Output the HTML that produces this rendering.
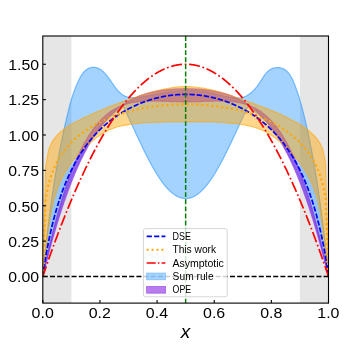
<!DOCTYPE html>
<html><head><meta charset="utf-8"><title>plot</title>
<style>
html,body{margin:0;padding:0;background:#fff;}
body{width:357px;height:357px;overflow:hidden;font-family:"Liberation Sans",sans-serif;}
svg{display:block;font-family:"Liberation Sans",sans-serif;will-change:transform;transform:translateZ(0);}
</style></head><body>
<svg width="357" height="357" viewBox="0 0 357 357">
<rect width="357" height="357" fill="#fff"/>
<defs><clipPath id="ax"><rect x="42.8" y="36.0" width="285.70" height="267.10"/></clipPath></defs>
<g clip-path="url(#ax)">
<rect x="42.8" y="36.0" width="28.57" height="267.10" fill="#808080" fill-opacity="0.2"/>
<rect x="299.93" y="36.0" width="28.57" height="267.10" fill="#808080" fill-opacity="0.2"/>
<path d="M42.80,276.50 L43.16,272.75 L43.51,269.05 L43.87,265.42 L44.23,261.84 L44.59,258.33 L44.94,254.87 L45.30,251.47 L45.66,248.13 L46.01,244.84 L46.37,241.61 L46.73,238.43 L47.09,235.30 L47.44,232.23 L47.80,229.21 L48.16,226.24 L48.51,223.31 L48.87,220.44 L49.23,217.61 L49.59,214.83 L49.94,212.09 L50.30,209.39 L50.66,206.74 L51.01,204.12 L51.37,201.55 L51.73,199.02 L52.09,196.52 L52.44,194.06 L52.80,191.64 L53.16,189.25 L53.51,186.89 L53.87,184.57 L54.23,182.28 L54.59,180.03 L54.94,177.80 L55.30,175.60 L55.66,173.44 L56.01,171.30 L56.37,169.19 L56.73,167.11 L57.08,165.05 L57.44,163.02 L57.80,161.01 L58.16,159.03 L58.51,157.08 L58.87,155.15 L59.23,153.24 L59.58,151.35 L59.94,149.48 L60.30,147.64 L60.66,145.82 L61.01,144.02 L61.37,142.24 L61.73,140.47 L62.08,138.73 L62.44,137.01 L62.80,135.30 L63.16,133.62 L63.51,131.95 L63.87,130.30 L64.23,128.66 L64.58,127.04 L64.94,125.44 L65.30,123.85 L65.66,122.28 L66.01,120.73 L66.37,119.19 L66.73,117.67 L67.08,116.16 L67.44,114.66 L67.80,113.18 L68.16,111.71 L68.51,110.27 L68.87,108.84 L69.23,107.44 L69.58,106.07 L69.94,104.73 L70.30,103.41 L70.66,102.13 L71.01,100.88 L71.37,99.65 L71.73,98.46 L72.08,97.30 L72.44,96.17 L72.80,95.07 L73.16,94.00 L73.51,92.95 L73.87,91.93 L74.23,90.94 L74.58,89.97 L74.94,89.03 L75.30,88.10 L75.66,87.20 L76.01,86.33 L76.37,85.47 L76.73,84.63 L77.08,83.81 L77.44,83.00 L77.80,82.22 L78.16,81.45 L78.51,80.70 L78.87,79.96 L79.23,79.24 L79.58,78.54 L79.94,77.86 L80.30,77.20 L80.66,76.57 L81.01,75.96 L81.37,75.38 L81.73,74.82 L82.08,74.29 L82.44,73.78 L82.80,73.29 L83.16,72.83 L83.51,72.40 L83.87,71.98 L84.23,71.59 L84.58,71.21 L84.94,70.87 L85.30,70.54 L85.66,70.22 L86.01,69.94 L86.37,69.66 L86.73,69.41 L87.08,69.17 L87.44,68.95 L87.80,68.75 L88.15,68.56 L88.51,68.39 L88.87,68.23 L89.23,68.09 L89.58,67.96 L89.94,67.84 L90.30,67.74 L90.65,67.65 L91.01,67.57 L91.37,67.50 L91.73,67.44 L92.08,67.39 L92.44,67.35 L92.80,67.32 L93.15,67.30 L93.51,67.30 L93.87,67.30 L94.23,67.31 L94.58,67.33 L94.94,67.37 L95.30,67.41 L95.65,67.48 L96.01,67.54 L96.37,67.63 L96.73,67.72 L97.08,67.83 L97.44,67.95 L97.80,68.08 L98.15,68.23 L98.51,68.38 L98.87,68.56 L99.23,68.74 L99.58,68.94 L99.94,69.15 L100.30,69.37 L100.65,69.61 L101.01,69.85 L101.37,70.12 L101.73,70.39 L102.08,70.68 L102.44,70.98 L102.80,71.30 L103.15,71.62 L103.51,71.97 L103.87,72.32 L104.23,72.68 L104.58,73.06 L104.94,73.45 L105.30,73.85 L105.65,74.25 L106.01,74.67 L106.37,75.11 L106.73,75.54 L107.08,75.99 L107.44,76.45 L107.80,76.91 L108.15,77.39 L108.51,77.86 L108.87,78.35 L109.23,78.84 L109.58,79.34 L109.94,79.84 L110.30,80.35 L110.65,80.85 L111.01,81.36 L111.37,81.87 L111.73,82.39 L112.08,82.90 L112.44,83.41 L112.80,83.92 L113.15,84.42 L113.51,84.93 L113.87,85.42 L114.22,85.92 L114.58,86.40 L114.94,86.89 L115.30,87.36 L115.65,87.83 L116.01,88.28 L116.37,88.73 L116.72,89.17 L117.08,89.60 L117.44,90.02 L117.80,90.43 L118.15,90.83 L118.51,91.21 L118.87,91.59 L119.22,91.95 L119.58,92.30 L119.94,92.64 L120.30,92.97 L120.65,93.29 L121.01,93.59 L121.37,93.88 L121.72,94.16 L122.08,94.42 L122.44,94.68 L122.80,94.91 L123.15,95.14 L123.51,95.36 L123.87,95.56 L124.22,95.76 L124.58,95.94 L124.94,96.11 L125.30,96.27 L125.65,96.41 L126.01,96.55 L126.37,96.68 L126.72,96.79 L127.08,96.90 L127.44,97.00 L127.80,97.09 L128.15,97.17 L128.51,97.25 L128.87,97.32 L129.22,97.38 L129.58,97.43 L129.94,97.48 L130.30,97.53 L130.65,97.56 L131.01,97.59 L131.37,97.62 L131.72,97.64 L132.08,97.66 L132.44,97.67 L132.80,97.68 L133.15,97.68 L133.51,97.68 L133.87,97.68 L134.22,97.67 L134.58,97.66 L134.94,97.65 L135.30,97.63 L135.65,97.61 L136.01,97.58 L136.37,97.56 L136.72,97.53 L137.08,97.50 L137.44,97.46 L137.80,97.43 L138.15,97.39 L138.51,97.35 L138.87,97.31 L139.22,97.26 L139.58,97.21 L139.94,97.17 L140.30,97.12 L140.65,97.07 L141.01,97.02 L141.37,96.96 L141.72,96.91 L142.08,96.85 L142.44,96.80 L142.80,96.74 L143.15,96.68 L143.51,96.63 L143.87,96.57 L144.22,96.51 L144.58,96.45 L144.94,96.39 L145.29,96.33 L145.65,96.27 L146.01,96.21 L146.37,96.15 L146.72,96.08 L147.08,96.02 L147.44,95.96 L147.79,95.89 L148.15,95.83 L148.51,95.77 L148.87,95.70 L149.22,95.64 L149.58,95.57 L149.94,95.51 L150.29,95.44 L150.65,95.38 L151.01,95.31 L151.37,95.24 L151.72,95.18 L152.08,95.11 L152.44,95.04 L152.79,94.98 L153.15,94.91 L153.51,94.84 L153.87,94.78 L154.22,94.71 L154.58,94.64 L154.94,94.57 L155.29,94.51 L155.65,94.44 L156.01,94.37 L156.37,94.30 L156.72,94.24 L157.08,94.17 L157.44,94.10 L157.79,94.03 L158.15,93.97 L158.51,93.90 L158.87,93.83 L159.22,93.77 L159.58,93.70 L159.94,93.63 L160.29,93.57 L160.65,93.50 L161.01,93.44 L161.37,93.37 L161.72,93.31 L162.08,93.24 L162.44,93.18 L162.79,93.11 L163.15,93.05 L163.51,92.99 L163.87,92.92 L164.22,92.86 L164.58,92.80 L164.94,92.74 L165.29,92.68 L165.65,92.62 L166.01,92.56 L166.37,92.50 L166.72,92.44 L167.08,92.38 L167.44,92.32 L167.79,92.26 L168.15,92.21 L168.51,92.15 L168.87,92.10 L169.22,92.04 L169.58,91.99 L169.94,91.93 L170.29,91.88 L170.65,91.83 L171.01,91.78 L171.37,91.73 L171.72,91.68 L172.08,91.63 L172.44,91.58 L172.79,91.53 L173.15,91.49 L173.51,91.44 L173.86,91.40 L174.22,91.36 L174.58,91.31 L174.94,91.27 L175.29,91.23 L175.65,91.19 L176.01,91.15 L176.36,91.11 L176.72,91.08 L177.08,91.04 L177.44,91.01 L177.79,90.97 L178.15,90.94 L178.51,90.91 L178.86,90.88 L179.22,90.85 L179.58,90.82 L179.94,90.80 L180.29,90.77 L180.65,90.74 L181.01,90.72 L181.36,90.70 L181.72,90.68 L182.08,90.66 L182.44,90.64 L182.79,90.62 L183.15,90.61 L183.51,90.59 L183.86,90.58 L184.22,90.57 L184.58,90.56 L184.94,90.55 L185.29,90.54 L185.65,90.53 L186.01,90.53 L186.36,90.52 L186.72,90.52 L187.08,90.52 L187.44,90.52 L187.79,90.52 L188.15,90.52 L188.51,90.53 L188.86,90.53 L189.22,90.54 L189.58,90.54 L189.94,90.55 L190.29,90.56 L190.65,90.58 L191.01,90.59 L191.36,90.60 L191.72,90.62 L192.08,90.63 L192.44,90.65 L192.79,90.67 L193.15,90.69 L193.51,90.71 L193.86,90.73 L194.22,90.76 L194.58,90.78 L194.94,90.81 L195.29,90.83 L195.65,90.86 L196.01,90.89 L196.36,90.92 L196.72,90.95 L197.08,90.98 L197.44,91.02 L197.79,91.05 L198.15,91.09 L198.51,91.12 L198.86,91.16 L199.22,91.20 L199.58,91.24 L199.94,91.28 L200.29,91.33 L200.65,91.37 L201.01,91.41 L201.36,91.46 L201.72,91.51 L202.08,91.55 L202.43,91.60 L202.79,91.65 L203.15,91.70 L203.51,91.76 L203.86,91.81 L204.22,91.86 L204.58,91.92 L204.93,91.98 L205.29,92.03 L205.65,92.09 L206.01,92.15 L206.36,92.21 L206.72,92.27 L207.08,92.34 L207.43,92.40 L207.79,92.47 L208.15,92.53 L208.51,92.60 L208.86,92.67 L209.22,92.74 L209.58,92.81 L209.93,92.88 L210.29,92.95 L210.65,93.02 L211.01,93.10 L211.36,93.17 L211.72,93.25 L212.08,93.33 L212.43,93.41 L212.79,93.49 L213.15,93.57 L213.51,93.65 L213.86,93.73 L214.22,93.81 L214.58,93.90 L214.93,93.98 L215.29,94.06 L215.65,94.15 L216.01,94.23 L216.36,94.32 L216.72,94.41 L217.08,94.49 L217.43,94.58 L217.79,94.66 L218.15,94.75 L218.51,94.84 L218.86,94.93 L219.22,95.01 L219.58,95.10 L219.93,95.18 L220.29,95.27 L220.65,95.36 L221.01,95.44 L221.36,95.53 L221.72,95.61 L222.08,95.70 L222.43,95.78 L222.79,95.86 L223.15,95.94 L223.51,96.03 L223.86,96.11 L224.22,96.19 L224.58,96.26 L224.93,96.34 L225.29,96.42 L225.65,96.49 L226.01,96.57 L226.36,96.64 L226.72,96.71 L227.08,96.78 L227.43,96.85 L227.79,96.92 L228.15,96.99 L228.50,97.05 L228.86,97.12 L229.22,97.18 L229.58,97.24 L229.93,97.30 L230.29,97.35 L230.65,97.41 L231.00,97.46 L231.36,97.51 L231.72,97.56 L232.08,97.60 L232.43,97.65 L232.79,97.69 L233.15,97.73 L233.50,97.77 L233.86,97.81 L234.22,97.84 L234.58,97.87 L234.93,97.90 L235.29,97.92 L235.65,97.95 L236.00,97.97 L236.36,97.98 L236.72,98.00 L237.08,98.01 L237.43,98.01 L237.79,98.01 L238.15,98.00 L238.50,98.00 L238.86,97.98 L239.22,97.96 L239.58,97.93 L239.93,97.90 L240.29,97.86 L240.65,97.82 L241.00,97.76 L241.36,97.70 L241.72,97.63 L242.08,97.56 L242.43,97.47 L242.79,97.38 L243.15,97.27 L243.50,97.16 L243.86,97.04 L244.22,96.90 L244.58,96.76 L244.93,96.61 L245.29,96.45 L245.65,96.28 L246.00,96.11 L246.36,95.92 L246.72,95.72 L247.08,95.52 L247.43,95.30 L247.79,95.09 L248.15,94.85 L248.50,94.62 L248.86,94.37 L249.22,94.12 L249.58,93.86 L249.93,93.59 L250.29,93.31 L250.65,93.03 L251.00,92.73 L251.36,92.43 L251.72,92.12 L252.08,91.80 L252.43,91.47 L252.79,91.13 L253.15,90.79 L253.50,90.43 L253.86,90.06 L254.22,89.68 L254.58,89.29 L254.93,88.90 L255.29,88.49 L255.65,88.07 L256.00,87.64 L256.36,87.20 L256.72,86.75 L257.07,86.28 L257.43,85.81 L257.79,85.33 L258.15,84.83 L258.50,84.33 L258.86,83.81 L259.22,83.29 L259.57,82.75 L259.93,82.21 L260.29,81.66 L260.65,81.10 L261.00,80.54 L261.36,79.98 L261.72,79.41 L262.07,78.86 L262.43,78.30 L262.79,77.75 L263.15,77.21 L263.50,76.68 L263.86,76.17 L264.22,75.66 L264.57,75.17 L264.93,74.69 L265.29,74.23 L265.65,73.78 L266.00,73.35 L266.36,72.94 L266.72,72.55 L267.07,72.17 L267.43,71.81 L267.79,71.47 L268.15,71.14 L268.50,70.83 L268.86,70.54 L269.22,70.27 L269.57,70.01 L269.93,69.77 L270.29,69.55 L270.65,69.34 L271.00,69.15 L271.36,68.96 L271.72,68.80 L272.07,68.64 L272.43,68.51 L272.79,68.37 L273.15,68.26 L273.50,68.15 L273.86,68.05 L274.22,67.96 L274.57,67.88 L274.93,67.81 L275.29,67.75 L275.65,67.70 L276.00,67.66 L276.36,67.63 L276.72,67.60 L277.07,67.59 L277.43,67.57 L277.79,67.58 L278.15,67.59 L278.50,67.61 L278.86,67.63 L279.22,67.67 L279.57,67.71 L279.93,67.77 L280.29,67.83 L280.65,67.91 L281.00,67.99 L281.36,68.09 L281.72,68.20 L282.07,68.31 L282.43,68.45 L282.79,68.58 L283.15,68.75 L283.50,68.91 L283.86,69.10 L284.22,69.30 L284.57,69.51 L284.93,69.74 L285.29,69.99 L285.64,70.25 L286.00,70.53 L286.36,70.83 L286.72,71.14 L287.07,71.48 L287.43,71.83 L287.79,72.21 L288.14,72.60 L288.50,73.02 L288.86,73.47 L289.22,73.94 L289.57,74.43 L289.93,74.94 L290.29,75.48 L290.64,76.05 L291.00,76.65 L291.36,77.28 L291.72,77.93 L292.07,78.62 L292.43,79.34 L292.79,80.08 L293.14,80.86 L293.50,81.67 L293.86,82.51 L294.22,83.38 L294.57,84.28 L294.93,85.20 L295.29,86.15 L295.64,87.11 L296.00,88.10 L296.36,89.10 L296.72,90.11 L297.07,91.15 L297.43,92.20 L297.79,93.27 L298.14,94.36 L298.50,95.46 L298.86,96.59 L299.22,97.74 L299.57,98.91 L299.93,100.10 L300.29,101.32 L300.64,102.56 L301.00,103.82 L301.36,105.10 L301.72,106.41 L302.07,107.74 L302.43,109.10 L302.79,110.48 L303.14,111.88 L303.50,113.31 L303.86,114.76 L304.22,116.22 L304.57,117.71 L304.93,119.21 L305.29,120.73 L305.64,122.27 L306.00,123.82 L306.36,125.39 L306.72,126.97 L307.07,128.57 L307.43,130.19 L307.79,131.83 L308.14,133.49 L308.50,135.17 L308.86,136.86 L309.22,138.57 L309.57,140.31 L309.93,142.06 L310.29,143.84 L310.64,145.64 L311.00,147.46 L311.36,149.30 L311.72,151.16 L312.07,153.05 L312.43,154.96 L312.79,156.89 L313.14,158.85 L313.50,160.83 L313.86,162.84 L314.22,164.88 L314.57,166.94 L314.93,169.04 L315.29,171.15 L315.64,173.30 L316.00,175.48 L316.36,177.69 L316.71,179.93 L317.07,182.20 L317.43,184.50 L317.79,186.84 L318.14,189.21 L318.50,191.61 L318.86,194.05 L319.21,196.53 L319.57,199.05 L319.93,201.60 L320.29,204.19 L320.64,206.82 L321.00,209.49 L321.36,212.21 L321.71,214.97 L322.07,217.77 L322.43,220.61 L322.79,223.50 L323.14,226.44 L323.50,229.43 L323.86,232.46 L324.21,235.54 L324.57,238.67 L324.93,241.85 L325.29,245.08 L325.64,248.37 L326.00,251.70 L326.36,255.09 L326.71,258.53 L327.07,262.02 L327.43,265.56 L327.79,269.16 L328.14,272.80 L328.50,276.50 L328.50,276.50 L328.14,274.86 L327.79,273.24 L327.43,271.62 L327.07,270.02 L326.71,268.43 L326.36,266.86 L326.00,265.29 L325.64,263.74 L325.29,262.19 L324.93,260.66 L324.57,259.15 L324.21,257.64 L323.86,256.14 L323.50,254.66 L323.14,253.19 L322.79,251.72 L322.43,250.27 L322.07,248.83 L321.71,247.40 L321.36,245.99 L321.00,244.58 L320.64,243.18 L320.29,241.80 L319.93,240.42 L319.57,239.06 L319.21,237.70 L318.86,236.36 L318.50,235.03 L318.14,233.70 L317.79,232.39 L317.43,231.09 L317.07,229.80 L316.71,228.51 L316.36,227.24 L316.00,225.98 L315.64,224.73 L315.29,223.48 L314.93,222.25 L314.57,221.03 L314.22,219.81 L313.86,218.61 L313.50,217.41 L313.14,216.23 L312.79,215.05 L312.43,213.89 L312.07,212.73 L311.72,211.58 L311.36,210.44 L311.00,209.31 L310.64,208.19 L310.29,207.08 L309.93,205.97 L309.57,204.88 L309.22,203.79 L308.86,202.71 L308.50,201.64 L308.14,200.58 L307.79,199.53 L307.43,198.49 L307.07,197.45 L306.72,196.42 L306.36,195.41 L306.00,194.40 L305.64,193.39 L305.29,192.40 L304.93,191.41 L304.57,190.43 L304.22,189.46 L303.86,188.50 L303.50,187.55 L303.14,186.60 L302.79,185.66 L302.43,184.73 L302.07,183.80 L301.72,182.89 L301.36,181.98 L301.00,181.08 L300.64,180.18 L300.29,179.30 L299.93,178.42 L299.57,177.55 L299.22,176.68 L298.86,175.82 L298.50,174.97 L298.14,174.13 L297.79,173.29 L297.43,172.46 L297.07,171.64 L296.72,170.82 L296.36,170.01 L296.00,169.21 L295.64,168.42 L295.29,167.63 L294.93,166.84 L294.57,166.07 L294.22,165.30 L293.86,164.54 L293.50,163.78 L293.14,163.03 L292.79,162.29 L292.43,161.55 L292.07,160.82 L291.72,160.09 L291.36,159.37 L291.00,158.66 L290.64,157.95 L290.29,157.25 L289.93,156.56 L289.57,155.87 L289.22,155.19 L288.86,154.51 L288.50,153.84 L288.14,153.17 L287.79,152.51 L287.43,151.86 L287.07,151.21 L286.72,150.57 L286.36,149.93 L286.00,149.30 L285.64,148.67 L285.29,148.05 L284.93,147.44 L284.57,146.83 L284.22,146.22 L283.86,145.62 L283.50,145.03 L283.15,144.44 L282.79,143.85 L282.43,143.28 L282.07,142.70 L281.72,142.13 L281.36,141.57 L281.00,141.01 L280.65,140.46 L280.29,139.91 L279.93,139.36 L279.57,138.82 L279.22,138.29 L278.86,137.76 L278.50,137.24 L278.15,136.72 L277.79,136.20 L277.43,135.69 L277.07,135.18 L276.72,134.68 L276.36,134.18 L276.00,133.69 L275.65,133.20 L275.29,132.72 L274.93,132.24 L274.57,131.76 L274.22,131.29 L273.86,130.83 L273.50,130.36 L273.15,129.91 L272.79,129.45 L272.43,129.00 L272.07,128.56 L271.72,128.11 L271.36,127.68 L271.00,127.24 L270.65,126.81 L270.29,126.39 L269.93,125.97 L269.57,125.55 L269.22,125.14 L268.86,124.73 L268.50,124.32 L268.15,123.92 L267.79,123.52 L267.43,123.12 L267.07,122.73 L266.72,122.34 L266.36,121.96 L266.00,121.58 L265.65,121.20 L265.29,120.83 L264.93,120.46 L264.57,120.09 L264.22,119.73 L263.86,119.37 L263.50,119.01 L263.15,118.66 L262.79,118.31 L262.43,117.97 L262.07,117.62 L261.72,117.28 L261.36,116.95 L261.00,116.62 L260.65,116.29 L260.29,115.96 L259.93,115.64 L259.57,115.32 L259.22,115.00 L258.86,114.68 L258.50,114.37 L258.15,114.07 L257.79,113.76 L257.43,113.46 L257.07,113.16 L256.72,112.86 L256.36,112.57 L256.00,112.28 L255.65,111.99 L255.29,111.71 L254.93,111.43 L254.58,111.15 L254.22,110.87 L253.86,110.60 L253.50,110.33 L253.15,110.06 L252.79,109.79 L252.43,109.53 L252.08,109.27 L251.72,109.01 L251.36,108.76 L251.00,108.51 L250.65,108.26 L250.29,108.01 L249.93,107.76 L249.58,107.52 L249.22,107.28 L248.86,107.05 L248.50,106.81 L248.15,106.58 L247.79,106.87 L247.43,107.61 L247.08,108.36 L246.72,109.10 L246.36,109.85 L246.00,110.60 L245.65,111.35 L245.29,112.10 L244.93,112.86 L244.58,113.62 L244.22,114.38 L243.86,115.14 L243.50,115.90 L243.15,116.67 L242.79,117.43 L242.43,118.20 L242.08,118.97 L241.72,119.74 L241.36,120.51 L241.00,121.28 L240.65,122.05 L240.29,122.82 L239.93,123.60 L239.58,124.37 L239.22,125.14 L238.86,125.92 L238.50,126.69 L238.15,127.47 L237.79,128.24 L237.43,129.02 L237.08,129.79 L236.72,130.56 L236.36,131.34 L236.00,132.11 L235.65,132.88 L235.29,133.65 L234.93,134.42 L234.58,135.19 L234.22,135.96 L233.86,136.72 L233.50,137.49 L233.15,138.25 L232.79,139.02 L232.43,139.78 L232.08,140.54 L231.72,141.30 L231.36,142.05 L231.00,142.80 L230.65,143.56 L230.29,144.31 L229.93,145.05 L229.58,145.80 L229.22,146.54 L228.86,147.28 L228.50,148.02 L228.15,148.76 L227.79,149.49 L227.43,150.22 L227.08,150.94 L226.72,151.67 L226.36,152.39 L226.01,153.11 L225.65,153.82 L225.29,154.53 L224.93,155.24 L224.58,155.95 L224.22,156.65 L223.86,157.34 L223.51,158.04 L223.15,158.73 L222.79,159.41 L222.43,160.09 L222.08,160.77 L221.72,161.45 L221.36,162.12 L221.01,162.78 L220.65,163.44 L220.29,164.10 L219.93,164.75 L219.58,165.40 L219.22,166.04 L218.86,166.68 L218.51,167.32 L218.15,167.95 L217.79,168.57 L217.43,169.19 L217.08,169.80 L216.72,170.41 L216.36,171.02 L216.01,171.62 L215.65,172.21 L215.29,172.80 L214.93,173.38 L214.58,173.96 L214.22,174.53 L213.86,175.10 L213.51,175.66 L213.15,176.22 L212.79,176.77 L212.43,177.31 L212.08,177.85 L211.72,178.38 L211.36,178.91 L211.01,179.43 L210.65,179.94 L210.29,180.45 L209.93,180.96 L209.58,181.45 L209.22,181.94 L208.86,182.42 L208.51,182.90 L208.15,183.37 L207.79,183.84 L207.43,184.30 L207.08,184.75 L206.72,185.19 L206.36,185.63 L206.01,186.06 L205.65,186.49 L205.29,186.90 L204.93,187.32 L204.58,187.72 L204.22,188.12 L203.86,188.51 L203.51,188.89 L203.15,189.27 L202.79,189.64 L202.43,190.00 L202.08,190.36 L201.72,190.71 L201.36,191.05 L201.01,191.38 L200.65,191.71 L200.29,192.03 L199.94,192.34 L199.58,192.65 L199.22,192.94 L198.86,193.23 L198.51,193.52 L198.15,193.79 L197.79,194.06 L197.44,194.32 L197.08,194.57 L196.72,194.82 L196.36,195.06 L196.01,195.29 L195.65,195.51 L195.29,195.73 L194.94,195.93 L194.58,196.13 L194.22,196.33 L193.86,196.51 L193.51,196.69 L193.15,196.86 L192.79,197.02 L192.44,197.17 L192.08,197.32 L191.72,197.45 L191.36,197.58 L191.01,197.71 L190.65,197.82 L190.29,197.93 L189.94,198.03 L189.58,198.12 L189.22,198.20 L188.86,198.28 L188.51,198.34 L188.15,198.40 L187.79,198.45 L187.44,198.50 L187.08,198.53 L186.72,198.56 L186.36,198.58 L186.01,198.59 L185.65,198.60 L185.29,198.59 L184.94,198.58 L184.58,198.56 L184.22,198.53 L183.86,198.50 L183.51,198.45 L183.15,198.40 L182.79,198.34 L182.44,198.28 L182.08,198.20 L181.72,198.12 L181.36,198.03 L181.01,197.93 L180.65,197.82 L180.29,197.71 L179.94,197.58 L179.58,197.45 L179.22,197.32 L178.86,197.17 L178.51,197.02 L178.15,196.86 L177.79,196.69 L177.44,196.51 L177.08,196.33 L176.72,196.13 L176.36,195.93 L176.01,195.73 L175.65,195.51 L175.29,195.29 L174.94,195.06 L174.58,194.82 L174.22,194.57 L173.86,194.32 L173.51,194.06 L173.15,193.79 L172.79,193.52 L172.44,193.23 L172.08,192.94 L171.72,192.65 L171.37,192.34 L171.01,192.03 L170.65,191.71 L170.29,191.38 L169.94,191.05 L169.58,190.71 L169.22,190.36 L168.87,190.00 L168.51,189.64 L168.15,189.27 L167.79,188.89 L167.44,188.51 L167.08,188.12 L166.72,187.72 L166.37,187.32 L166.01,186.90 L165.65,186.49 L165.29,186.06 L164.94,185.63 L164.58,185.19 L164.22,184.75 L163.87,184.30 L163.51,183.84 L163.15,183.37 L162.79,182.90 L162.44,182.42 L162.08,181.94 L161.72,181.45 L161.37,180.96 L161.01,180.45 L160.65,179.94 L160.29,179.43 L159.94,178.91 L159.58,178.38 L159.22,177.85 L158.87,177.31 L158.51,176.77 L158.15,176.22 L157.79,175.66 L157.44,175.10 L157.08,174.53 L156.72,173.96 L156.37,173.38 L156.01,172.80 L155.65,172.21 L155.29,171.62 L154.94,171.02 L154.58,170.41 L154.22,169.80 L153.87,169.19 L153.51,168.57 L153.15,167.95 L152.79,167.32 L152.44,166.68 L152.08,166.04 L151.72,165.40 L151.37,164.75 L151.01,164.10 L150.65,163.44 L150.29,162.78 L149.94,162.12 L149.58,161.45 L149.22,160.77 L148.87,160.09 L148.51,159.41 L148.15,158.73 L147.79,158.04 L147.44,157.34 L147.08,156.65 L146.72,155.95 L146.37,155.24 L146.01,154.53 L145.65,153.82 L145.29,153.11 L144.94,152.39 L144.58,151.67 L144.22,150.94 L143.87,150.22 L143.51,149.49 L143.15,148.76 L142.80,148.02 L142.44,147.28 L142.08,146.54 L141.72,145.80 L141.37,145.05 L141.01,144.31 L140.65,143.56 L140.30,142.80 L139.94,142.05 L139.58,141.30 L139.22,140.54 L138.87,139.78 L138.51,139.02 L138.15,138.25 L137.80,137.49 L137.44,136.72 L137.08,135.96 L136.72,135.19 L136.37,134.42 L136.01,133.65 L135.65,132.88 L135.30,132.11 L134.94,131.34 L134.58,130.56 L134.22,129.79 L133.87,129.02 L133.51,128.24 L133.15,127.47 L132.80,126.69 L132.44,125.92 L132.08,125.14 L131.72,124.37 L131.37,123.60 L131.01,122.82 L130.65,122.05 L130.30,121.28 L129.94,120.51 L129.58,119.74 L129.22,118.97 L128.87,118.20 L128.51,117.43 L128.15,116.67 L127.80,115.90 L127.44,115.14 L127.08,114.38 L126.72,113.62 L126.37,112.86 L126.01,112.10 L125.65,111.35 L125.30,110.60 L124.94,109.85 L124.58,109.10 L124.22,108.36 L123.87,107.61 L123.51,106.87 L123.15,106.58 L122.80,106.81 L122.44,107.05 L122.08,107.28 L121.72,107.52 L121.37,107.76 L121.01,108.01 L120.65,108.26 L120.30,108.51 L119.94,108.76 L119.58,109.01 L119.22,109.27 L118.87,109.53 L118.51,109.79 L118.15,110.06 L117.80,110.33 L117.44,110.60 L117.08,110.87 L116.72,111.15 L116.37,111.43 L116.01,111.71 L115.65,111.99 L115.30,112.28 L114.94,112.57 L114.58,112.86 L114.22,113.16 L113.87,113.46 L113.51,113.76 L113.15,114.07 L112.80,114.37 L112.44,114.68 L112.08,115.00 L111.73,115.32 L111.37,115.64 L111.01,115.96 L110.65,116.29 L110.30,116.62 L109.94,116.95 L109.58,117.28 L109.23,117.62 L108.87,117.97 L108.51,118.31 L108.15,118.66 L107.80,119.01 L107.44,119.37 L107.08,119.73 L106.73,120.09 L106.37,120.46 L106.01,120.83 L105.65,121.20 L105.30,121.58 L104.94,121.96 L104.58,122.34 L104.23,122.73 L103.87,123.12 L103.51,123.52 L103.15,123.92 L102.80,124.32 L102.44,124.73 L102.08,125.14 L101.73,125.55 L101.37,125.97 L101.01,126.39 L100.65,126.81 L100.30,127.24 L99.94,127.68 L99.58,128.11 L99.23,128.56 L98.87,129.00 L98.51,129.45 L98.15,129.91 L97.80,130.36 L97.44,130.83 L97.08,131.29 L96.73,131.76 L96.37,132.24 L96.01,132.72 L95.65,133.20 L95.30,133.69 L94.94,134.18 L94.58,134.68 L94.23,135.18 L93.87,135.69 L93.51,136.20 L93.15,136.72 L92.80,137.24 L92.44,137.76 L92.08,138.29 L91.73,138.82 L91.37,139.36 L91.01,139.91 L90.65,140.46 L90.30,141.01 L89.94,141.57 L89.58,142.13 L89.23,142.70 L88.87,143.28 L88.51,143.85 L88.15,144.44 L87.80,145.03 L87.44,145.62 L87.08,146.22 L86.73,146.83 L86.37,147.44 L86.01,148.05 L85.66,148.67 L85.30,149.30 L84.94,149.93 L84.58,150.57 L84.23,151.21 L83.87,151.86 L83.51,152.51 L83.16,153.17 L82.80,153.84 L82.44,154.51 L82.08,155.19 L81.73,155.87 L81.37,156.56 L81.01,157.25 L80.66,157.95 L80.30,158.66 L79.94,159.37 L79.58,160.09 L79.23,160.82 L78.87,161.55 L78.51,162.29 L78.16,163.03 L77.80,163.78 L77.44,164.54 L77.08,165.30 L76.73,166.07 L76.37,166.84 L76.01,167.63 L75.66,168.42 L75.30,169.21 L74.94,170.01 L74.58,170.82 L74.23,171.64 L73.87,172.46 L73.51,173.29 L73.16,174.13 L72.80,174.97 L72.44,175.82 L72.08,176.68 L71.73,177.55 L71.37,178.42 L71.01,179.30 L70.66,180.18 L70.30,181.08 L69.94,181.98 L69.58,182.89 L69.23,183.80 L68.87,184.73 L68.51,185.66 L68.16,186.60 L67.80,187.55 L67.44,188.50 L67.08,189.46 L66.73,190.43 L66.37,191.41 L66.01,192.40 L65.66,193.39 L65.30,194.40 L64.94,195.41 L64.58,196.42 L64.23,197.45 L63.87,198.49 L63.51,199.53 L63.16,200.58 L62.80,201.64 L62.44,202.71 L62.08,203.79 L61.73,204.88 L61.37,205.97 L61.01,207.08 L60.66,208.19 L60.30,209.31 L59.94,210.44 L59.58,211.58 L59.23,212.73 L58.87,213.89 L58.51,215.05 L58.16,216.23 L57.80,217.41 L57.44,218.61 L57.08,219.81 L56.73,221.03 L56.37,222.25 L56.01,223.48 L55.66,224.73 L55.30,225.98 L54.94,227.24 L54.59,228.51 L54.23,229.80 L53.87,231.09 L53.51,232.39 L53.16,233.70 L52.80,235.03 L52.44,236.36 L52.09,237.70 L51.73,239.06 L51.37,240.42 L51.01,241.80 L50.66,243.18 L50.30,244.58 L49.94,245.99 L49.59,247.40 L49.23,248.83 L48.87,250.27 L48.51,251.72 L48.16,253.19 L47.80,254.66 L47.44,256.14 L47.09,257.64 L46.73,259.15 L46.37,260.66 L46.01,262.19 L45.66,263.74 L45.30,265.29 L44.94,266.86 L44.59,268.43 L44.23,270.02 L43.87,271.62 L43.51,273.24 L43.16,274.86 L42.80,276.50 Z" fill="#1e90ff" fill-opacity="0.4" stroke="#1e90ff" stroke-opacity="0.55" stroke-width="1.2" stroke-linejoin="round"/>
<path d="M42.80,276.50 L43.16,275.04 L43.51,273.58 L43.87,272.13 L44.23,270.69 L44.59,269.25 L44.94,267.83 L45.30,266.41 L45.66,265.00 L46.01,263.59 L46.37,262.20 L46.73,260.81 L47.09,259.42 L47.44,258.05 L47.80,256.68 L48.16,255.32 L48.51,253.97 L48.87,252.62 L49.23,251.29 L49.59,249.96 L49.94,248.63 L50.30,247.32 L50.66,246.01 L51.01,244.71 L51.37,243.41 L51.73,242.13 L52.09,240.85 L52.44,239.57 L52.80,238.31 L53.16,237.05 L53.51,235.80 L53.87,234.56 L54.23,233.32 L54.59,232.09 L54.94,230.87 L55.30,229.66 L55.66,228.45 L56.01,227.25 L56.37,226.05 L56.73,224.87 L57.08,223.69 L57.44,222.52 L57.80,221.35 L58.16,220.19 L58.51,219.04 L58.87,217.90 L59.23,216.76 L59.58,215.63 L59.94,214.51 L60.30,213.39 L60.66,212.28 L61.01,211.18 L61.37,210.08 L61.73,208.99 L62.08,207.91 L62.44,206.83 L62.80,205.76 L63.16,204.70 L63.51,203.65 L63.87,202.60 L64.23,201.56 L64.58,200.52 L64.94,199.49 L65.30,198.47 L65.66,197.46 L66.01,196.45 L66.37,195.45 L66.73,194.45 L67.08,193.46 L67.44,192.48 L67.80,191.51 L68.16,190.54 L68.51,189.57 L68.87,188.62 L69.23,187.67 L69.58,186.73 L69.94,185.79 L70.30,184.86 L70.66,183.93 L71.01,183.02 L71.37,182.11 L71.73,181.20 L72.08,180.30 L72.44,179.41 L72.80,178.52 L73.16,177.64 L73.51,176.77 L73.87,175.90 L74.23,175.04 L74.58,174.18 L74.94,173.33 L75.30,172.49 L75.66,171.65 L76.01,170.82 L76.37,170.00 L76.73,169.18 L77.08,168.37 L77.44,167.56 L77.80,166.76 L78.16,165.96 L78.51,165.17 L78.87,164.39 L79.23,163.61 L79.58,162.84 L79.94,162.07 L80.30,161.31 L80.66,160.56 L81.01,159.81 L81.37,159.06 L81.73,158.33 L82.08,157.59 L82.44,156.87 L82.80,156.15 L83.16,155.43 L83.51,154.72 L83.87,154.02 L84.23,153.32 L84.58,152.63 L84.94,151.94 L85.30,151.26 L85.66,150.58 L86.01,149.91 L86.37,149.24 L86.73,148.58 L87.08,147.92 L87.44,147.27 L87.80,146.63 L88.15,145.99 L88.51,145.35 L88.87,144.73 L89.23,144.10 L89.58,143.48 L89.94,142.87 L90.30,142.26 L90.65,141.66 L91.01,141.06 L91.37,140.46 L91.73,139.87 L92.08,139.29 L92.44,138.71 L92.80,138.14 L93.15,137.57 L93.51,137.00 L93.87,136.44 L94.23,135.89 L94.58,135.34 L94.94,134.80 L95.30,134.25 L95.65,133.72 L96.01,133.19 L96.37,132.66 L96.73,132.14 L97.08,131.62 L97.44,131.11 L97.80,130.60 L98.15,130.10 L98.51,129.60 L98.87,129.11 L99.23,128.62 L99.58,128.13 L99.94,127.65 L100.30,127.17 L100.65,126.70 L101.01,126.23 L101.37,125.77 L101.73,125.31 L102.08,124.86 L102.44,124.40 L102.80,123.96 L103.15,123.52 L103.51,123.08 L103.87,122.64 L104.23,122.21 L104.58,121.79 L104.94,121.36 L105.30,120.95 L105.65,120.53 L106.01,120.12 L106.37,119.72 L106.73,119.32 L107.08,118.92 L107.44,118.52 L107.80,118.13 L108.15,117.75 L108.51,117.36 L108.87,116.98 L109.23,116.61 L109.58,116.24 L109.94,115.87 L110.30,115.51 L110.65,115.15 L111.01,114.79 L111.37,114.44 L111.73,114.09 L112.08,113.74 L112.44,113.40 L112.80,113.06 L113.15,112.72 L113.51,112.39 L113.87,112.06 L114.22,111.74 L114.58,111.42 L114.94,111.10 L115.30,110.78 L115.65,110.47 L116.01,110.16 L116.37,109.86 L116.72,109.56 L117.08,109.26 L117.44,108.96 L117.80,108.67 L118.15,108.38 L118.51,108.10 L118.87,107.81 L119.22,107.53 L119.58,107.26 L119.94,106.98 L120.30,106.71 L120.65,106.44 L121.01,106.18 L121.37,105.92 L121.72,105.66 L122.08,105.40 L122.44,105.15 L122.80,104.90 L123.15,104.65 L123.51,104.41 L123.87,104.17 L124.22,103.93 L124.58,103.69 L124.94,103.46 L125.30,103.23 L125.65,103.00 L126.01,102.78 L126.37,102.55 L126.72,102.33 L127.08,102.12 L127.44,101.90 L127.80,101.69 L128.15,101.48 L128.51,101.27 L128.87,101.07 L129.22,100.86 L129.58,100.66 L129.94,100.47 L130.30,100.27 L130.65,100.08 L131.01,99.89 L131.37,99.70 L131.72,99.52 L132.08,99.33 L132.44,99.15 L132.80,98.97 L133.15,98.80 L133.51,98.62 L133.87,98.45 L134.22,98.28 L134.58,98.11 L134.94,97.95 L135.30,97.78 L135.65,97.62 L136.01,97.46 L136.37,97.30 L136.72,97.15 L137.08,97.00 L137.44,96.85 L137.80,96.70 L138.15,96.55 L138.51,96.40 L138.87,96.26 L139.22,96.12 L139.58,95.98 L139.94,95.84 L140.30,95.71 L140.65,95.57 L141.01,95.44 L141.37,95.31 L141.72,95.18 L142.08,95.06 L142.44,94.93 L142.80,94.81 L143.15,94.69 L143.51,94.57 L143.87,94.45 L144.22,94.33 L144.58,94.22 L144.94,94.10 L145.29,93.99 L145.65,93.88 L146.01,93.77 L146.37,93.67 L146.72,93.56 L147.08,93.46 L147.44,93.36 L147.79,93.26 L148.15,93.16 L148.51,93.06 L148.87,92.96 L149.22,92.87 L149.58,92.78 L149.94,92.68 L150.29,92.59 L150.65,92.50 L151.01,92.42 L151.37,92.33 L151.72,92.25 L152.08,92.16 L152.44,92.08 L152.79,92.00 L153.15,91.92 L153.51,91.84 L153.87,91.76 L154.22,91.69 L154.58,91.61 L154.94,91.54 L155.29,91.47 L155.65,91.40 L156.01,91.33 L156.37,91.26 L156.72,91.19 L157.08,91.12 L157.44,91.06 L157.79,91.00 L158.15,90.93 L158.51,90.87 L158.87,90.81 L159.22,90.75 L159.58,90.69 L159.94,90.64 L160.29,90.58 L160.65,90.52 L161.01,90.47 L161.37,90.42 L161.72,90.36 L162.08,90.31 L162.44,90.26 L162.79,90.21 L163.15,90.16 L163.51,90.12 L163.87,90.07 L164.22,90.02 L164.58,89.98 L164.94,89.94 L165.29,89.89 L165.65,89.85 L166.01,89.81 L166.37,89.77 L166.72,89.73 L167.08,89.69 L167.44,89.66 L167.79,89.62 L168.15,89.58 L168.51,89.55 L168.87,89.52 L169.22,89.48 L169.58,89.45 L169.94,89.42 L170.29,89.39 L170.65,89.36 L171.01,89.33 L171.37,89.30 L171.72,89.27 L172.08,89.25 L172.44,89.22 L172.79,89.19 L173.15,89.17 L173.51,89.15 L173.86,89.12 L174.22,89.10 L174.58,89.08 L174.94,89.06 L175.29,89.04 L175.65,89.02 L176.01,89.00 L176.36,88.98 L176.72,88.97 L177.08,88.95 L177.44,88.93 L177.79,88.92 L178.15,88.90 L178.51,88.89 L178.86,88.88 L179.22,88.86 L179.58,88.85 L179.94,88.84 L180.29,88.83 L180.65,88.82 L181.01,88.81 L181.36,88.80 L181.72,88.80 L182.08,88.79 L182.44,88.78 L182.79,88.78 L183.15,88.77 L183.51,88.77 L183.86,88.77 L184.22,88.76 L184.58,88.76 L184.94,88.76 L185.29,88.76 L185.65,88.76 L186.01,88.76 L186.36,88.76 L186.72,88.76 L187.08,88.76 L187.44,88.77 L187.79,88.77 L188.15,88.77 L188.51,88.78 L188.86,88.78 L189.22,88.79 L189.58,88.80 L189.94,88.80 L190.29,88.81 L190.65,88.82 L191.01,88.83 L191.36,88.84 L191.72,88.85 L192.08,88.86 L192.44,88.88 L192.79,88.89 L193.15,88.90 L193.51,88.92 L193.86,88.93 L194.22,88.95 L194.58,88.97 L194.94,88.98 L195.29,89.00 L195.65,89.02 L196.01,89.04 L196.36,89.06 L196.72,89.08 L197.08,89.10 L197.44,89.12 L197.79,89.15 L198.15,89.17 L198.51,89.19 L198.86,89.22 L199.22,89.25 L199.58,89.27 L199.94,89.30 L200.29,89.33 L200.65,89.36 L201.01,89.39 L201.36,89.42 L201.72,89.45 L202.08,89.48 L202.43,89.52 L202.79,89.55 L203.15,89.58 L203.51,89.62 L203.86,89.66 L204.22,89.69 L204.58,89.73 L204.93,89.77 L205.29,89.81 L205.65,89.85 L206.01,89.89 L206.36,89.94 L206.72,89.98 L207.08,90.02 L207.43,90.07 L207.79,90.12 L208.15,90.16 L208.51,90.21 L208.86,90.26 L209.22,90.31 L209.58,90.36 L209.93,90.42 L210.29,90.47 L210.65,90.52 L211.01,90.58 L211.36,90.64 L211.72,90.69 L212.08,90.75 L212.43,90.81 L212.79,90.87 L213.15,90.93 L213.51,91.00 L213.86,91.06 L214.22,91.12 L214.58,91.19 L214.93,91.26 L215.29,91.33 L215.65,91.40 L216.01,91.47 L216.36,91.54 L216.72,91.61 L217.08,91.69 L217.43,91.76 L217.79,91.84 L218.15,91.92 L218.51,92.00 L218.86,92.08 L219.22,92.16 L219.58,92.25 L219.93,92.33 L220.29,92.42 L220.65,92.50 L221.01,92.59 L221.36,92.68 L221.72,92.78 L222.08,92.87 L222.43,92.96 L222.79,93.06 L223.15,93.16 L223.51,93.26 L223.86,93.36 L224.22,93.46 L224.58,93.56 L224.93,93.67 L225.29,93.77 L225.65,93.88 L226.01,93.99 L226.36,94.10 L226.72,94.22 L227.08,94.33 L227.43,94.45 L227.79,94.57 L228.15,94.69 L228.50,94.81 L228.86,94.93 L229.22,95.06 L229.58,95.18 L229.93,95.31 L230.29,95.44 L230.65,95.57 L231.00,95.71 L231.36,95.84 L231.72,95.98 L232.08,96.12 L232.43,96.26 L232.79,96.40 L233.15,96.55 L233.50,96.70 L233.86,96.85 L234.22,97.00 L234.58,97.15 L234.93,97.30 L235.29,97.46 L235.65,97.62 L236.00,97.78 L236.36,97.95 L236.72,98.11 L237.08,98.28 L237.43,98.45 L237.79,98.62 L238.15,98.80 L238.50,98.97 L238.86,99.15 L239.22,99.33 L239.58,99.52 L239.93,99.70 L240.29,99.89 L240.65,100.08 L241.00,100.27 L241.36,100.47 L241.72,100.66 L242.08,100.86 L242.43,101.07 L242.79,101.27 L243.15,101.48 L243.50,101.69 L243.86,101.90 L244.22,102.12 L244.58,102.33 L244.93,102.55 L245.29,102.78 L245.65,103.00 L246.00,103.23 L246.36,103.46 L246.72,103.69 L247.08,103.93 L247.43,104.17 L247.79,104.41 L248.15,104.65 L248.50,104.90 L248.86,105.15 L249.22,105.40 L249.58,105.66 L249.93,105.92 L250.29,106.18 L250.65,106.44 L251.00,106.71 L251.36,106.98 L251.72,107.26 L252.08,107.53 L252.43,107.81 L252.79,108.10 L253.15,108.38 L253.50,108.67 L253.86,108.96 L254.22,109.26 L254.58,109.56 L254.93,109.86 L255.29,110.16 L255.65,110.47 L256.00,110.78 L256.36,111.10 L256.72,111.42 L257.07,111.74 L257.43,112.06 L257.79,112.39 L258.15,112.72 L258.50,113.06 L258.86,113.40 L259.22,113.74 L259.57,114.09 L259.93,114.44 L260.29,114.79 L260.65,115.15 L261.00,115.51 L261.36,115.87 L261.72,116.24 L262.07,116.61 L262.43,116.98 L262.79,117.36 L263.15,117.75 L263.50,118.13 L263.86,118.52 L264.22,118.92 L264.57,119.32 L264.93,119.72 L265.29,120.12 L265.65,120.53 L266.00,120.95 L266.36,121.36 L266.72,121.79 L267.07,122.21 L267.43,122.64 L267.79,123.08 L268.15,123.52 L268.50,123.96 L268.86,124.40 L269.22,124.86 L269.57,125.31 L269.93,125.77 L270.29,126.23 L270.65,126.70 L271.00,127.17 L271.36,127.65 L271.72,128.13 L272.07,128.62 L272.43,129.11 L272.79,129.60 L273.15,130.10 L273.50,130.60 L273.86,131.11 L274.22,131.62 L274.57,132.14 L274.93,132.66 L275.29,133.19 L275.65,133.72 L276.00,134.25 L276.36,134.80 L276.72,135.34 L277.07,135.89 L277.43,136.44 L277.79,137.00 L278.15,137.57 L278.50,138.14 L278.86,138.71 L279.22,139.29 L279.57,139.87 L279.93,140.46 L280.29,141.06 L280.65,141.66 L281.00,142.26 L281.36,142.87 L281.72,143.48 L282.07,144.10 L282.43,144.73 L282.79,145.35 L283.15,145.99 L283.50,146.63 L283.86,147.27 L284.22,147.92 L284.57,148.58 L284.93,149.24 L285.29,149.91 L285.64,150.58 L286.00,151.26 L286.36,151.94 L286.72,152.63 L287.07,153.32 L287.43,154.02 L287.79,154.72 L288.14,155.43 L288.50,156.15 L288.86,156.87 L289.22,157.59 L289.57,158.33 L289.93,159.06 L290.29,159.81 L290.64,160.56 L291.00,161.31 L291.36,162.07 L291.72,162.84 L292.07,163.61 L292.43,164.39 L292.79,165.17 L293.14,165.96 L293.50,166.76 L293.86,167.56 L294.22,168.37 L294.57,169.18 L294.93,170.00 L295.29,170.82 L295.64,171.65 L296.00,172.49 L296.36,173.33 L296.72,174.18 L297.07,175.04 L297.43,175.90 L297.79,176.77 L298.14,177.64 L298.50,178.52 L298.86,179.41 L299.22,180.30 L299.57,181.20 L299.93,182.11 L300.29,183.02 L300.64,183.93 L301.00,184.86 L301.36,185.79 L301.72,186.73 L302.07,187.67 L302.43,188.62 L302.79,189.57 L303.14,190.54 L303.50,191.51 L303.86,192.48 L304.22,193.46 L304.57,194.45 L304.93,195.45 L305.29,196.45 L305.64,197.46 L306.00,198.47 L306.36,199.49 L306.72,200.52 L307.07,201.56 L307.43,202.60 L307.79,203.65 L308.14,204.70 L308.50,205.76 L308.86,206.83 L309.22,207.91 L309.57,208.99 L309.93,210.08 L310.29,211.18 L310.64,212.28 L311.00,213.39 L311.36,214.51 L311.72,215.63 L312.07,216.76 L312.43,217.90 L312.79,219.04 L313.14,220.19 L313.50,221.35 L313.86,222.52 L314.22,223.69 L314.57,224.87 L314.93,226.05 L315.29,227.25 L315.64,228.45 L316.00,229.66 L316.36,230.87 L316.71,232.09 L317.07,233.32 L317.43,234.56 L317.79,235.80 L318.14,237.05 L318.50,238.31 L318.86,239.57 L319.21,240.85 L319.57,242.13 L319.93,243.41 L320.29,244.71 L320.64,246.01 L321.00,247.32 L321.36,248.63 L321.71,249.96 L322.07,251.29 L322.43,252.62 L322.79,253.97 L323.14,255.32 L323.50,256.68 L323.86,258.05 L324.21,259.42 L324.57,260.81 L324.93,262.20 L325.29,263.59 L325.64,265.00 L326.00,266.41 L326.36,267.83 L326.71,269.25 L327.07,270.69 L327.43,272.13 L327.79,273.58 L328.14,275.04 L328.50,276.50 L328.50,276.50 L328.14,274.78 L327.79,273.07 L327.43,271.37 L327.07,269.68 L326.71,268.00 L326.36,266.34 L326.00,264.68 L325.64,263.04 L325.29,261.41 L324.93,259.79 L324.57,258.18 L324.21,256.58 L323.86,254.99 L323.50,253.42 L323.14,251.85 L322.79,250.30 L322.43,248.75 L322.07,247.22 L321.71,245.70 L321.36,244.18 L321.00,242.68 L320.64,241.19 L320.29,239.71 L319.93,238.24 L319.57,236.79 L319.21,235.34 L318.86,233.90 L318.50,232.48 L318.14,231.06 L317.79,229.65 L317.43,228.26 L317.07,226.87 L316.71,225.50 L316.36,224.13 L316.00,222.78 L315.64,221.44 L315.29,220.10 L314.93,218.78 L314.57,217.46 L314.22,216.16 L313.86,214.87 L313.50,213.58 L313.14,212.31 L312.79,211.05 L312.43,209.79 L312.07,208.55 L311.72,207.31 L311.36,206.09 L311.00,204.87 L310.64,203.67 L310.29,202.47 L309.93,201.29 L309.57,200.11 L309.22,198.94 L308.86,197.79 L308.50,196.64 L308.14,195.50 L307.79,194.37 L307.43,193.25 L307.07,192.14 L306.72,191.04 L306.36,189.95 L306.00,188.86 L305.64,187.79 L305.29,186.73 L304.93,185.67 L304.57,184.62 L304.22,183.59 L303.86,182.56 L303.50,181.54 L303.14,180.53 L302.79,179.52 L302.43,178.53 L302.07,177.55 L301.72,176.57 L301.36,175.60 L301.00,174.64 L300.64,173.69 L300.29,172.75 L299.93,171.82 L299.57,170.89 L299.22,169.98 L298.86,169.07 L298.50,168.17 L298.14,167.28 L297.79,166.39 L297.43,165.52 L297.07,164.65 L296.72,163.79 L296.36,162.94 L296.00,162.10 L295.64,161.27 L295.29,160.44 L294.93,159.62 L294.57,158.81 L294.22,158.01 L293.86,157.21 L293.50,156.42 L293.14,155.64 L292.79,154.87 L292.43,154.11 L292.07,153.35 L291.72,152.60 L291.36,151.86 L291.00,151.12 L290.64,150.40 L290.29,149.68 L289.93,148.96 L289.57,148.26 L289.22,147.56 L288.86,146.87 L288.50,146.19 L288.14,145.51 L287.79,144.84 L287.43,144.18 L287.07,143.52 L286.72,142.88 L286.36,142.23 L286.00,141.60 L285.64,140.97 L285.29,140.35 L284.93,139.74 L284.57,139.13 L284.22,138.53 L283.86,137.94 L283.50,137.35 L283.15,136.77 L282.79,136.19 L282.43,135.62 L282.07,135.06 L281.72,134.51 L281.36,133.96 L281.00,133.42 L280.65,132.88 L280.29,132.35 L279.93,131.83 L279.57,131.31 L279.22,130.80 L278.86,130.29 L278.50,129.79 L278.15,129.30 L277.79,128.81 L277.43,128.33 L277.07,127.85 L276.72,127.38 L276.36,126.92 L276.00,126.46 L275.65,126.01 L275.29,125.56 L274.93,125.12 L274.57,124.68 L274.22,124.25 L273.86,123.83 L273.50,123.41 L273.15,122.99 L272.79,122.58 L272.43,122.18 L272.07,121.78 L271.72,121.39 L271.36,121.00 L271.00,120.62 L270.65,120.24 L270.29,119.87 L269.93,119.50 L269.57,119.14 L269.22,118.78 L268.86,118.43 L268.50,118.08 L268.15,117.74 L267.79,117.40 L267.43,117.06 L267.07,116.74 L266.72,116.41 L266.36,116.09 L266.00,115.78 L265.65,115.47 L265.29,115.16 L264.93,114.86 L264.57,114.57 L264.22,114.27 L263.86,113.99 L263.50,113.70 L263.15,113.42 L262.79,113.15 L262.43,112.88 L262.07,112.61 L261.72,112.35 L261.36,112.09 L261.00,111.84 L260.65,111.59 L260.29,111.34 L259.93,111.10 L259.57,110.86 L259.22,110.63 L258.86,110.40 L258.50,110.17 L258.15,109.95 L257.79,109.73 L257.43,109.51 L257.07,109.30 L256.72,109.09 L256.36,108.89 L256.00,108.69 L255.65,108.49 L255.29,108.30 L254.93,108.11 L254.58,107.92 L254.22,107.74 L253.86,107.56 L253.50,107.38 L253.15,107.21 L252.79,107.04 L252.43,106.87 L252.08,106.71 L251.72,106.55 L251.36,106.39 L251.00,106.23 L250.65,106.08 L250.29,105.93 L249.93,105.79 L249.58,105.65 L249.22,105.51 L248.86,105.37 L248.50,105.24 L248.15,105.11 L247.79,104.98 L247.43,104.85 L247.08,104.73 L246.72,104.61 L246.36,104.49 L246.00,104.38 L245.65,104.26 L245.29,104.15 L244.93,104.05 L244.58,103.94 L244.22,103.84 L243.86,103.74 L243.50,103.64 L243.15,103.55 L242.79,103.45 L242.43,103.36 L242.08,103.27 L241.72,103.19 L241.36,103.10 L241.00,103.02 L240.65,102.94 L240.29,102.87 L239.93,102.79 L239.58,102.72 L239.22,102.65 L238.86,102.58 L238.50,102.51 L238.15,102.44 L237.79,102.38 L237.43,102.32 L237.08,102.26 L236.72,102.20 L236.36,102.15 L236.00,102.09 L235.65,102.04 L235.29,101.99 L234.93,101.94 L234.58,101.89 L234.22,101.84 L233.86,101.80 L233.50,101.76 L233.15,101.72 L232.79,101.68 L232.43,101.64 L232.08,101.60 L231.72,101.57 L231.36,101.53 L231.00,101.50 L230.65,101.47 L230.29,101.44 L229.93,101.41 L229.58,101.38 L229.22,101.36 L228.86,101.33 L228.50,101.31 L228.15,101.29 L227.79,101.26 L227.43,101.24 L227.08,101.23 L226.72,101.21 L226.36,101.19 L226.01,101.18 L225.65,101.16 L225.29,101.15 L224.93,101.13 L224.58,101.12 L224.22,101.11 L223.86,101.10 L223.51,101.09 L223.15,101.08 L222.79,101.08 L222.43,101.07 L222.08,101.07 L221.72,101.06 L221.36,101.06 L221.01,101.05 L220.65,101.05 L220.29,101.05 L219.93,101.05 L219.58,101.05 L219.22,101.05 L218.86,101.05 L218.51,101.05 L218.15,101.05 L217.79,101.05 L217.43,101.05 L217.08,101.06 L216.72,101.06 L216.36,101.07 L216.01,101.07 L215.65,101.08 L215.29,101.08 L214.93,101.09 L214.58,101.09 L214.22,101.10 L213.86,101.11 L213.51,101.12 L213.15,101.12 L212.79,101.13 L212.43,101.14 L212.08,101.15 L211.72,101.16 L211.36,101.17 L211.01,101.18 L210.65,101.19 L210.29,101.20 L209.93,101.21 L209.58,101.22 L209.22,101.23 L208.86,101.24 L208.51,101.25 L208.15,101.26 L207.79,101.27 L207.43,101.28 L207.08,101.29 L206.72,101.31 L206.36,101.32 L206.01,101.33 L205.65,101.34 L205.29,101.35 L204.93,101.36 L204.58,101.37 L204.22,101.38 L203.86,101.40 L203.51,101.41 L203.15,101.42 L202.79,101.43 L202.43,101.44 L202.08,101.45 L201.72,101.46 L201.36,101.47 L201.01,101.49 L200.65,101.50 L200.29,101.51 L199.94,101.52 L199.58,101.53 L199.22,101.54 L198.86,101.55 L198.51,101.56 L198.15,101.57 L197.79,101.58 L197.44,101.59 L197.08,101.59 L196.72,101.60 L196.36,101.61 L196.01,101.62 L195.65,101.63 L195.29,101.64 L194.94,101.64 L194.58,101.65 L194.22,101.66 L193.86,101.67 L193.51,101.67 L193.15,101.68 L192.79,101.68 L192.44,101.69 L192.08,101.70 L191.72,101.70 L191.36,101.71 L191.01,101.71 L190.65,101.72 L190.29,101.72 L189.94,101.72 L189.58,101.73 L189.22,101.73 L188.86,101.73 L188.51,101.74 L188.15,101.74 L187.79,101.74 L187.44,101.74 L187.08,101.74 L186.72,101.75 L186.36,101.75 L186.01,101.75 L185.65,101.75 L185.29,101.75 L184.94,101.75 L184.58,101.75 L184.22,101.74 L183.86,101.74 L183.51,101.74 L183.15,101.74 L182.79,101.74 L182.44,101.73 L182.08,101.73 L181.72,101.73 L181.36,101.72 L181.01,101.72 L180.65,101.72 L180.29,101.71 L179.94,101.71 L179.58,101.70 L179.22,101.70 L178.86,101.69 L178.51,101.68 L178.15,101.68 L177.79,101.67 L177.44,101.67 L177.08,101.66 L176.72,101.65 L176.36,101.64 L176.01,101.64 L175.65,101.63 L175.29,101.62 L174.94,101.61 L174.58,101.60 L174.22,101.59 L173.86,101.59 L173.51,101.58 L173.15,101.57 L172.79,101.56 L172.44,101.55 L172.08,101.54 L171.72,101.53 L171.37,101.52 L171.01,101.51 L170.65,101.50 L170.29,101.49 L169.94,101.47 L169.58,101.46 L169.22,101.45 L168.87,101.44 L168.51,101.43 L168.15,101.42 L167.79,101.41 L167.44,101.40 L167.08,101.38 L166.72,101.37 L166.37,101.36 L166.01,101.35 L165.65,101.34 L165.29,101.33 L164.94,101.32 L164.58,101.31 L164.22,101.29 L163.87,101.28 L163.51,101.27 L163.15,101.26 L162.79,101.25 L162.44,101.24 L162.08,101.23 L161.72,101.22 L161.37,101.21 L161.01,101.20 L160.65,101.19 L160.29,101.18 L159.94,101.17 L159.58,101.16 L159.22,101.15 L158.87,101.14 L158.51,101.13 L158.15,101.12 L157.79,101.12 L157.44,101.11 L157.08,101.10 L156.72,101.09 L156.37,101.09 L156.01,101.08 L155.65,101.08 L155.29,101.07 L154.94,101.07 L154.58,101.06 L154.22,101.06 L153.87,101.05 L153.51,101.05 L153.15,101.05 L152.79,101.05 L152.44,101.05 L152.08,101.05 L151.72,101.05 L151.37,101.05 L151.01,101.05 L150.65,101.05 L150.29,101.05 L149.94,101.06 L149.58,101.06 L149.22,101.07 L148.87,101.07 L148.51,101.08 L148.15,101.08 L147.79,101.09 L147.44,101.10 L147.08,101.11 L146.72,101.12 L146.37,101.13 L146.01,101.15 L145.65,101.16 L145.29,101.18 L144.94,101.19 L144.58,101.21 L144.22,101.23 L143.87,101.24 L143.51,101.26 L143.15,101.29 L142.80,101.31 L142.44,101.33 L142.08,101.36 L141.72,101.38 L141.37,101.41 L141.01,101.44 L140.65,101.47 L140.30,101.50 L139.94,101.53 L139.58,101.57 L139.22,101.60 L138.87,101.64 L138.51,101.68 L138.15,101.72 L137.80,101.76 L137.44,101.80 L137.08,101.84 L136.72,101.89 L136.37,101.94 L136.01,101.99 L135.65,102.04 L135.30,102.09 L134.94,102.15 L134.58,102.20 L134.22,102.26 L133.87,102.32 L133.51,102.38 L133.15,102.44 L132.80,102.51 L132.44,102.58 L132.08,102.65 L131.72,102.72 L131.37,102.79 L131.01,102.87 L130.65,102.94 L130.30,103.02 L129.94,103.10 L129.58,103.19 L129.22,103.27 L128.87,103.36 L128.51,103.45 L128.15,103.55 L127.80,103.64 L127.44,103.74 L127.08,103.84 L126.72,103.94 L126.37,104.05 L126.01,104.15 L125.65,104.26 L125.30,104.38 L124.94,104.49 L124.58,104.61 L124.22,104.73 L123.87,104.85 L123.51,104.98 L123.15,105.11 L122.80,105.24 L122.44,105.37 L122.08,105.51 L121.72,105.65 L121.37,105.79 L121.01,105.93 L120.65,106.08 L120.30,106.23 L119.94,106.39 L119.58,106.55 L119.22,106.71 L118.87,106.87 L118.51,107.04 L118.15,107.21 L117.80,107.38 L117.44,107.56 L117.08,107.74 L116.72,107.92 L116.37,108.11 L116.01,108.30 L115.65,108.49 L115.30,108.69 L114.94,108.89 L114.58,109.09 L114.22,109.30 L113.87,109.51 L113.51,109.73 L113.15,109.95 L112.80,110.17 L112.44,110.40 L112.08,110.63 L111.73,110.86 L111.37,111.10 L111.01,111.34 L110.65,111.59 L110.30,111.84 L109.94,112.09 L109.58,112.35 L109.23,112.61 L108.87,112.88 L108.51,113.15 L108.15,113.42 L107.80,113.70 L107.44,113.99 L107.08,114.27 L106.73,114.57 L106.37,114.86 L106.01,115.16 L105.65,115.47 L105.30,115.78 L104.94,116.09 L104.58,116.41 L104.23,116.74 L103.87,117.06 L103.51,117.40 L103.15,117.74 L102.80,118.08 L102.44,118.43 L102.08,118.78 L101.73,119.14 L101.37,119.50 L101.01,119.87 L100.65,120.24 L100.30,120.62 L99.94,121.00 L99.58,121.39 L99.23,121.78 L98.87,122.18 L98.51,122.58 L98.15,122.99 L97.80,123.41 L97.44,123.83 L97.08,124.25 L96.73,124.68 L96.37,125.12 L96.01,125.56 L95.65,126.01 L95.30,126.46 L94.94,126.92 L94.58,127.38 L94.23,127.85 L93.87,128.33 L93.51,128.81 L93.15,129.30 L92.80,129.79 L92.44,130.29 L92.08,130.80 L91.73,131.31 L91.37,131.83 L91.01,132.35 L90.65,132.88 L90.30,133.42 L89.94,133.96 L89.58,134.51 L89.23,135.06 L88.87,135.62 L88.51,136.19 L88.15,136.77 L87.80,137.35 L87.44,137.94 L87.08,138.53 L86.73,139.13 L86.37,139.74 L86.01,140.35 L85.66,140.97 L85.30,141.60 L84.94,142.23 L84.58,142.88 L84.23,143.52 L83.87,144.18 L83.51,144.84 L83.16,145.51 L82.80,146.19 L82.44,146.87 L82.08,147.56 L81.73,148.26 L81.37,148.96 L81.01,149.68 L80.66,150.40 L80.30,151.12 L79.94,151.86 L79.58,152.60 L79.23,153.35 L78.87,154.11 L78.51,154.87 L78.16,155.64 L77.80,156.42 L77.44,157.21 L77.08,158.01 L76.73,158.81 L76.37,159.62 L76.01,160.44 L75.66,161.27 L75.30,162.10 L74.94,162.94 L74.58,163.79 L74.23,164.65 L73.87,165.52 L73.51,166.39 L73.16,167.28 L72.80,168.17 L72.44,169.07 L72.08,169.98 L71.73,170.89 L71.37,171.82 L71.01,172.75 L70.66,173.69 L70.30,174.64 L69.94,175.60 L69.58,176.57 L69.23,177.55 L68.87,178.53 L68.51,179.52 L68.16,180.53 L67.80,181.54 L67.44,182.56 L67.08,183.59 L66.73,184.62 L66.37,185.67 L66.01,186.73 L65.66,187.79 L65.30,188.86 L64.94,189.95 L64.58,191.04 L64.23,192.14 L63.87,193.25 L63.51,194.37 L63.16,195.50 L62.80,196.64 L62.44,197.79 L62.08,198.94 L61.73,200.11 L61.37,201.29 L61.01,202.47 L60.66,203.67 L60.30,204.87 L59.94,206.09 L59.58,207.31 L59.23,208.55 L58.87,209.79 L58.51,211.05 L58.16,212.31 L57.80,213.58 L57.44,214.87 L57.08,216.16 L56.73,217.46 L56.37,218.78 L56.01,220.10 L55.66,221.44 L55.30,222.78 L54.94,224.13 L54.59,225.50 L54.23,226.87 L53.87,228.26 L53.51,229.65 L53.16,231.06 L52.80,232.48 L52.44,233.90 L52.09,235.34 L51.73,236.79 L51.37,238.24 L51.01,239.71 L50.66,241.19 L50.30,242.68 L49.94,244.18 L49.59,245.70 L49.23,247.22 L48.87,248.75 L48.51,250.30 L48.16,251.85 L47.80,253.42 L47.44,254.99 L47.09,256.58 L46.73,258.18 L46.37,259.79 L46.01,261.41 L45.66,263.04 L45.30,264.68 L44.94,266.34 L44.59,268.00 L44.23,269.68 L43.87,271.37 L43.51,273.07 L43.16,274.78 L42.80,276.50 Z" fill="#8a2be2" fill-opacity="0.62" stroke="#8a2be2" stroke-opacity="0.62" stroke-width="1.3" stroke-linejoin="round"/>
<path d="M42.80,276.50 L45.66,166.71 L48.51,150.08 L51.37,143.12 L54.23,138.61 L57.08,135.22 L59.94,132.44 L62.80,130.06 L65.66,127.96 L68.51,126.07 L71.37,124.33 L74.23,122.71 L77.08,121.19 L79.94,119.75 L82.80,118.35 L85.66,117.00 L88.51,115.68 L91.37,114.38 L94.23,113.10 L97.08,111.86 L99.94,110.64 L102.80,109.44 L105.65,108.26 L108.51,107.11 L111.37,105.99 L114.22,104.88 L117.08,103.80 L119.94,102.73 L122.80,101.68 L125.65,100.66 L128.51,99.64 L131.37,98.65 L134.22,97.67 L137.08,96.70 L139.94,95.75 L142.80,94.82 L145.65,93.92 L148.51,93.05 L151.37,92.22 L154.22,91.43 L157.08,90.68 L159.94,89.97 L162.79,89.33 L165.65,88.74 L168.51,88.21 L171.37,87.75 L174.22,87.36 L177.08,87.05 L179.94,86.81 L182.79,86.67 L185.65,86.61 L188.51,86.65 L191.36,86.78 L194.22,86.99 L197.08,87.30 L199.94,87.68 L202.79,88.13 L205.65,88.66 L208.51,89.25 L211.36,89.90 L214.22,90.61 L217.08,91.37 L219.93,92.18 L222.79,93.03 L225.65,93.92 L228.50,94.84 L231.36,95.79 L234.22,96.76 L237.08,97.75 L239.93,98.76 L242.79,99.77 L245.65,100.79 L248.50,101.81 L251.36,102.83 L254.22,103.86 L257.07,104.91 L259.93,105.97 L262.79,107.05 L265.65,108.15 L268.50,109.27 L271.36,110.43 L274.22,111.62 L277.07,112.84 L279.93,114.11 L282.79,115.42 L285.64,116.77 L288.50,118.18 L291.36,119.65 L294.22,121.18 L297.07,122.78 L299.93,124.48 L302.79,126.30 L305.64,128.26 L308.50,130.42 L311.36,132.83 L314.22,135.59 L317.07,138.85 L319.93,142.95 L322.79,148.87 L325.64,162.75 L328.50,276.50 L328.50,276.50 L325.64,255.47 L322.79,228.60 L319.93,210.19 L317.07,198.15 L314.22,189.31 L311.36,182.32 L308.50,176.52 L305.64,171.51 L302.79,167.05 L299.93,163.02 L297.07,159.32 L294.22,155.89 L291.36,152.71 L288.50,149.73 L285.64,146.94 L282.79,144.31 L279.93,141.83 L277.07,139.50 L274.22,137.30 L271.36,135.27 L268.50,133.43 L265.65,131.82 L262.79,130.43 L259.93,129.23 L257.07,128.20 L254.22,127.30 L251.36,126.52 L248.50,125.84 L245.65,125.24 L242.79,124.70 L239.93,124.23 L237.08,123.81 L234.22,123.44 L231.36,123.13 L228.50,122.85 L225.65,122.62 L222.79,122.43 L219.93,122.27 L217.08,122.14 L214.22,122.04 L211.36,121.97 L208.51,121.91 L205.65,121.88 L202.79,121.86 L199.94,121.86 L197.08,121.86 L194.22,121.87 L191.36,121.89 L188.51,121.90 L185.65,121.92 L182.79,121.93 L179.94,121.94 L177.08,121.95 L174.22,121.96 L171.37,121.98 L168.51,122.00 L165.65,122.04 L162.79,122.08 L159.94,122.15 L157.08,122.23 L154.22,122.33 L151.37,122.46 L148.51,122.61 L145.65,122.79 L142.80,123.00 L139.94,123.25 L137.08,123.53 L134.22,123.85 L131.37,124.22 L128.51,124.63 L125.65,125.10 L122.80,125.65 L119.94,126.30 L117.08,127.05 L114.22,127.94 L111.37,128.99 L108.51,130.23 L105.65,131.70 L102.80,133.39 L99.94,135.29 L97.08,137.37 L94.23,139.60 L91.37,141.95 L88.51,144.43 L85.66,147.04 L82.80,149.81 L79.94,152.75 L77.08,155.89 L74.23,159.26 L71.37,162.91 L68.51,166.91 L65.66,171.36 L62.80,176.45 L59.94,182.40 L57.08,189.56 L54.23,198.53 L51.37,210.50 L48.51,228.06 L45.66,253.73 L42.80,276.50 Z" fill="#ffa500" fill-opacity="0.45" stroke="#ffa500" stroke-opacity="0.6" stroke-width="1.1" stroke-linejoin="round"/>
<path d="M42.80,276.50 L43.16,273.69 L43.51,271.07 L43.87,268.57 L44.23,266.16 L44.59,263.84 L44.94,261.58 L45.30,259.40 L45.66,257.27 L46.01,255.19 L46.37,253.16 L46.73,251.18 L47.09,249.25 L47.44,247.36 L47.80,245.50 L48.16,243.69 L48.51,241.91 L48.87,240.17 L49.23,238.46 L49.59,236.78 L49.94,235.13 L50.30,233.51 L50.66,231.92 L51.01,230.36 L51.37,228.82 L51.73,227.31 L52.09,225.82 L52.44,224.36 L52.80,222.93 L53.16,221.51 L53.51,220.12 L53.87,218.75 L54.23,217.40 L54.59,216.07 L54.94,214.76 L55.30,213.47 L55.66,212.20 L56.01,210.95 L56.37,209.71 L56.73,208.49 L57.08,207.29 L57.44,206.11 L57.80,204.95 L58.16,203.79 L58.51,202.66 L58.87,201.54 L59.23,200.44 L59.58,199.35 L59.94,198.27 L60.30,197.21 L60.66,196.16 L61.01,195.13 L61.37,194.11 L61.73,193.10 L62.08,192.11 L62.44,191.13 L62.80,190.16 L63.16,189.20 L63.51,188.25 L63.87,187.32 L64.23,186.40 L64.58,185.49 L64.94,184.59 L65.30,183.70 L65.66,182.82 L66.01,181.95 L66.37,181.09 L66.73,180.24 L67.08,179.40 L67.44,178.57 L67.80,177.75 L68.16,176.94 L68.51,176.14 L68.87,175.35 L69.23,174.57 L69.58,173.80 L69.94,173.03 L70.30,172.27 L70.66,171.52 L71.01,170.78 L71.37,170.05 L71.73,169.33 L72.08,168.61 L72.44,167.90 L72.80,167.20 L73.16,166.51 L73.51,165.82 L73.87,165.14 L74.23,164.47 L74.58,163.81 L74.94,163.15 L75.30,162.50 L75.66,161.85 L76.01,161.21 L76.37,160.58 L76.73,159.96 L77.08,159.34 L77.44,158.73 L77.80,158.12 L78.16,157.52 L78.51,156.93 L78.87,156.34 L79.23,155.76 L79.58,155.18 L79.94,154.61 L80.30,154.04 L80.66,153.48 L81.01,152.93 L81.37,152.38 L81.73,151.83 L82.08,151.29 L82.44,150.76 L82.80,150.23 L83.16,149.71 L83.51,149.19 L83.87,148.67 L84.23,148.16 L84.58,147.66 L84.94,147.16 L85.30,146.66 L85.66,146.17 L86.01,145.69 L86.37,145.20 L86.73,144.73 L87.08,144.25 L87.44,143.78 L87.80,143.32 L88.15,142.86 L88.51,142.40 L88.87,141.95 L89.23,141.50 L89.58,141.06 L89.94,140.61 L90.30,140.18 L90.65,139.74 L91.01,139.31 L91.37,138.89 L91.73,138.47 L92.08,138.05 L92.44,137.63 L92.80,137.22 L93.15,136.81 L93.51,136.41 L93.87,136.01 L94.23,135.61 L94.58,135.22 L94.94,134.82 L95.30,134.44 L95.65,134.05 L96.01,133.67 L96.37,133.29 L96.73,132.92 L97.08,132.54 L97.44,132.17 L97.80,131.81 L98.15,131.45 L98.51,131.08 L98.87,130.73 L99.23,130.37 L99.58,130.02 L99.94,129.67 L100.30,129.33 L100.65,128.98 L101.01,128.64 L101.37,128.30 L101.73,127.97 L102.08,127.64 L102.44,127.31 L102.80,126.98 L103.15,126.65 L103.51,126.33 L103.87,126.01 L104.23,125.69 L104.58,125.38 L104.94,125.07 L105.30,124.76 L105.65,124.45 L106.01,124.14 L106.37,123.84 L106.73,123.54 L107.08,123.24 L107.44,122.94 L107.80,122.65 L108.15,122.36 L108.51,122.07 L108.87,121.78 L109.23,121.50 L109.58,121.21 L109.94,120.93 L110.30,120.65 L110.65,120.38 L111.01,120.10 L111.37,119.83 L111.73,119.56 L112.08,119.29 L112.44,119.02 L112.80,118.76 L113.15,118.50 L113.51,118.24 L113.87,117.98 L114.22,117.72 L114.58,117.46 L114.94,117.21 L115.30,116.96 L115.65,116.71 L116.01,116.46 L116.37,116.22 L116.72,115.97 L117.08,115.73 L117.44,115.49 L117.80,115.25 L118.15,115.02 L118.51,114.78 L118.87,114.55 L119.22,114.32 L119.58,114.09 L119.94,113.86 L120.30,113.63 L120.65,113.41 L121.01,113.19 L121.37,112.97 L121.72,112.75 L122.08,112.53 L122.44,112.31 L122.80,112.10 L123.15,111.88 L123.51,111.67 L123.87,111.46 L124.22,111.25 L124.58,111.05 L124.94,110.84 L125.30,110.64 L125.65,110.43 L126.01,110.23 L126.37,110.03 L126.72,109.84 L127.08,109.64 L127.44,109.45 L127.80,109.25 L128.15,109.06 L128.51,108.87 L128.87,108.68 L129.22,108.49 L129.58,108.31 L129.94,108.12 L130.30,107.94 L130.65,107.76 L131.01,107.58 L131.37,107.40 L131.72,107.22 L132.08,107.05 L132.44,106.87 L132.80,106.70 L133.15,106.53 L133.51,106.36 L133.87,106.19 L134.22,106.02 L134.58,105.85 L134.94,105.69 L135.30,105.52 L135.65,105.36 L136.01,105.20 L136.37,105.04 L136.72,104.88 L137.08,104.73 L137.44,104.57 L137.80,104.42 L138.15,104.26 L138.51,104.11 L138.87,103.96 L139.22,103.81 L139.58,103.66 L139.94,103.52 L140.30,103.37 L140.65,103.23 L141.01,103.08 L141.37,102.94 L141.72,102.80 L142.08,102.66 L142.44,102.52 L142.80,102.39 L143.15,102.25 L143.51,102.12 L143.87,101.98 L144.22,101.85 L144.58,101.72 L144.94,101.59 L145.29,101.46 L145.65,101.34 L146.01,101.21 L146.37,101.09 L146.72,100.96 L147.08,100.84 L147.44,100.72 L147.79,100.60 L148.15,100.48 L148.51,100.37 L148.87,100.25 L149.22,100.13 L149.58,100.02 L149.94,99.91 L150.29,99.80 L150.65,99.69 L151.01,99.58 L151.37,99.47 L151.72,99.36 L152.08,99.26 L152.44,99.15 L152.79,99.05 L153.15,98.95 L153.51,98.85 L153.87,98.75 L154.22,98.65 L154.58,98.55 L154.94,98.46 L155.29,98.36 L155.65,98.27 L156.01,98.17 L156.37,98.08 L156.72,97.99 L157.08,97.90 L157.44,97.81 L157.79,97.73 L158.15,97.64 L158.51,97.56 L158.87,97.47 L159.22,97.39 L159.58,97.31 L159.94,97.23 L160.29,97.15 L160.65,97.07 L161.01,97.00 L161.37,96.92 L161.72,96.84 L162.08,96.77 L162.44,96.70 L162.79,96.63 L163.15,96.56 L163.51,96.49 L163.87,96.42 L164.22,96.35 L164.58,96.29 L164.94,96.22 L165.29,96.16 L165.65,96.10 L166.01,96.04 L166.37,95.98 L166.72,95.92 L167.08,95.86 L167.44,95.80 L167.79,95.75 L168.15,95.69 L168.51,95.64 L168.87,95.59 L169.22,95.54 L169.58,95.49 L169.94,95.44 L170.29,95.39 L170.65,95.34 L171.01,95.30 L171.37,95.25 L171.72,95.21 L172.08,95.17 L172.44,95.13 L172.79,95.09 L173.15,95.05 L173.51,95.01 L173.86,94.97 L174.22,94.94 L174.58,94.90 L174.94,94.87 L175.29,94.84 L175.65,94.81 L176.01,94.78 L176.36,94.75 L176.72,94.72 L177.08,94.69 L177.44,94.67 L177.79,94.64 L178.15,94.62 L178.51,94.60 L178.86,94.57 L179.22,94.55 L179.58,94.54 L179.94,94.52 L180.29,94.50 L180.65,94.48 L181.01,94.47 L181.36,94.46 L181.72,94.44 L182.08,94.43 L182.44,94.42 L182.79,94.41 L183.15,94.40 L183.51,94.40 L183.86,94.39 L184.22,94.39 L184.58,94.38 L184.94,94.38 L185.29,94.38 L185.65,94.38 L186.01,94.38 L186.36,94.38 L186.72,94.38 L187.08,94.39 L187.44,94.39 L187.79,94.40 L188.15,94.40 L188.51,94.41 L188.86,94.42 L189.22,94.43 L189.58,94.44 L189.94,94.46 L190.29,94.47 L190.65,94.48 L191.01,94.50 L191.36,94.52 L191.72,94.54 L192.08,94.55 L192.44,94.57 L192.79,94.60 L193.15,94.62 L193.51,94.64 L193.86,94.67 L194.22,94.69 L194.58,94.72 L194.94,94.75 L195.29,94.78 L195.65,94.81 L196.01,94.84 L196.36,94.87 L196.72,94.90 L197.08,94.94 L197.44,94.97 L197.79,95.01 L198.15,95.05 L198.51,95.09 L198.86,95.13 L199.22,95.17 L199.58,95.21 L199.94,95.25 L200.29,95.30 L200.65,95.34 L201.01,95.39 L201.36,95.44 L201.72,95.49 L202.08,95.54 L202.43,95.59 L202.79,95.64 L203.15,95.69 L203.51,95.75 L203.86,95.80 L204.22,95.86 L204.58,95.92 L204.93,95.98 L205.29,96.04 L205.65,96.10 L206.01,96.16 L206.36,96.22 L206.72,96.29 L207.08,96.35 L207.43,96.42 L207.79,96.49 L208.15,96.56 L208.51,96.63 L208.86,96.70 L209.22,96.77 L209.58,96.84 L209.93,96.92 L210.29,97.00 L210.65,97.07 L211.01,97.15 L211.36,97.23 L211.72,97.31 L212.08,97.39 L212.43,97.47 L212.79,97.56 L213.15,97.64 L213.51,97.73 L213.86,97.81 L214.22,97.90 L214.58,97.99 L214.93,98.08 L215.29,98.17 L215.65,98.27 L216.01,98.36 L216.36,98.46 L216.72,98.55 L217.08,98.65 L217.43,98.75 L217.79,98.85 L218.15,98.95 L218.51,99.05 L218.86,99.15 L219.22,99.26 L219.58,99.36 L219.93,99.47 L220.29,99.58 L220.65,99.69 L221.01,99.80 L221.36,99.91 L221.72,100.02 L222.08,100.13 L222.43,100.25 L222.79,100.37 L223.15,100.48 L223.51,100.60 L223.86,100.72 L224.22,100.84 L224.58,100.96 L224.93,101.09 L225.29,101.21 L225.65,101.34 L226.01,101.46 L226.36,101.59 L226.72,101.72 L227.08,101.85 L227.43,101.98 L227.79,102.12 L228.15,102.25 L228.50,102.39 L228.86,102.52 L229.22,102.66 L229.58,102.80 L229.93,102.94 L230.29,103.08 L230.65,103.23 L231.00,103.37 L231.36,103.52 L231.72,103.66 L232.08,103.81 L232.43,103.96 L232.79,104.11 L233.15,104.26 L233.50,104.42 L233.86,104.57 L234.22,104.73 L234.58,104.88 L234.93,105.04 L235.29,105.20 L235.65,105.36 L236.00,105.52 L236.36,105.69 L236.72,105.85 L237.08,106.02 L237.43,106.19 L237.79,106.36 L238.15,106.53 L238.50,106.70 L238.86,106.87 L239.22,107.05 L239.58,107.22 L239.93,107.40 L240.29,107.58 L240.65,107.76 L241.00,107.94 L241.36,108.12 L241.72,108.31 L242.08,108.49 L242.43,108.68 L242.79,108.87 L243.15,109.06 L243.50,109.25 L243.86,109.45 L244.22,109.64 L244.58,109.84 L244.93,110.03 L245.29,110.23 L245.65,110.43 L246.00,110.64 L246.36,110.84 L246.72,111.05 L247.08,111.25 L247.43,111.46 L247.79,111.67 L248.15,111.88 L248.50,112.10 L248.86,112.31 L249.22,112.53 L249.58,112.75 L249.93,112.97 L250.29,113.19 L250.65,113.41 L251.00,113.63 L251.36,113.86 L251.72,114.09 L252.08,114.32 L252.43,114.55 L252.79,114.78 L253.15,115.02 L253.50,115.25 L253.86,115.49 L254.22,115.73 L254.58,115.97 L254.93,116.22 L255.29,116.46 L255.65,116.71 L256.00,116.96 L256.36,117.21 L256.72,117.46 L257.07,117.72 L257.43,117.98 L257.79,118.24 L258.15,118.50 L258.50,118.76 L258.86,119.02 L259.22,119.29 L259.57,119.56 L259.93,119.83 L260.29,120.10 L260.65,120.38 L261.00,120.65 L261.36,120.93 L261.72,121.21 L262.07,121.50 L262.43,121.78 L262.79,122.07 L263.15,122.36 L263.50,122.65 L263.86,122.94 L264.22,123.24 L264.57,123.54 L264.93,123.84 L265.29,124.14 L265.65,124.45 L266.00,124.76 L266.36,125.07 L266.72,125.38 L267.07,125.69 L267.43,126.01 L267.79,126.33 L268.15,126.65 L268.50,126.98 L268.86,127.31 L269.22,127.64 L269.57,127.97 L269.93,128.30 L270.29,128.64 L270.65,128.98 L271.00,129.33 L271.36,129.67 L271.72,130.02 L272.07,130.37 L272.43,130.73 L272.79,131.08 L273.15,131.45 L273.50,131.81 L273.86,132.17 L274.22,132.54 L274.57,132.92 L274.93,133.29 L275.29,133.67 L275.65,134.05 L276.00,134.44 L276.36,134.82 L276.72,135.22 L277.07,135.61 L277.43,136.01 L277.79,136.41 L278.15,136.81 L278.50,137.22 L278.86,137.63 L279.22,138.05 L279.57,138.47 L279.93,138.89 L280.29,139.31 L280.65,139.74 L281.00,140.18 L281.36,140.61 L281.72,141.06 L282.07,141.50 L282.43,141.95 L282.79,142.40 L283.15,142.86 L283.50,143.32 L283.86,143.78 L284.22,144.25 L284.57,144.73 L284.93,145.20 L285.29,145.69 L285.64,146.17 L286.00,146.66 L286.36,147.16 L286.72,147.66 L287.07,148.16 L287.43,148.67 L287.79,149.19 L288.14,149.71 L288.50,150.23 L288.86,150.76 L289.22,151.29 L289.57,151.83 L289.93,152.38 L290.29,152.93 L290.64,153.48 L291.00,154.04 L291.36,154.61 L291.72,155.18 L292.07,155.76 L292.43,156.34 L292.79,156.93 L293.14,157.52 L293.50,158.12 L293.86,158.73 L294.22,159.34 L294.57,159.96 L294.93,160.58 L295.29,161.21 L295.64,161.85 L296.00,162.50 L296.36,163.15 L296.72,163.81 L297.07,164.47 L297.43,165.14 L297.79,165.82 L298.14,166.51 L298.50,167.20 L298.86,167.90 L299.22,168.61 L299.57,169.33 L299.93,170.05 L300.29,170.78 L300.64,171.52 L301.00,172.27 L301.36,173.03 L301.72,173.80 L302.07,174.57 L302.43,175.35 L302.79,176.14 L303.14,176.94 L303.50,177.75 L303.86,178.57 L304.22,179.40 L304.57,180.24 L304.93,181.09 L305.29,181.95 L305.64,182.82 L306.00,183.70 L306.36,184.59 L306.72,185.49 L307.07,186.40 L307.43,187.32 L307.79,188.25 L308.14,189.20 L308.50,190.16 L308.86,191.13 L309.22,192.11 L309.57,193.10 L309.93,194.11 L310.29,195.13 L310.64,196.16 L311.00,197.21 L311.36,198.27 L311.72,199.35 L312.07,200.44 L312.43,201.54 L312.79,202.66 L313.14,203.79 L313.50,204.95 L313.86,206.11 L314.22,207.29 L314.57,208.49 L314.93,209.71 L315.29,210.95 L315.64,212.20 L316.00,213.47 L316.36,214.76 L316.71,216.07 L317.07,217.40 L317.43,218.75 L317.79,220.12 L318.14,221.51 L318.50,222.93 L318.86,224.36 L319.21,225.82 L319.57,227.31 L319.93,228.82 L320.29,230.36 L320.64,231.92 L321.00,233.51 L321.36,235.13 L321.71,236.78 L322.07,238.46 L322.43,240.17 L322.79,241.91 L323.14,243.69 L323.50,245.50 L323.86,247.36 L324.21,249.25 L324.57,251.18 L324.93,253.16 L325.29,255.19 L325.64,257.27 L326.00,259.40 L326.36,261.58 L326.71,263.84 L327.07,266.16 L327.43,268.57 L327.79,271.07 L328.14,273.69 L328.50,276.50" fill="none" stroke="#0000ff" stroke-width="1.7" stroke-dasharray="5.3,1.9"/>
<path d="M42.80,276.50 L45.66,198.44 L48.51,184.22 L51.37,174.84 L54.23,167.69 L57.08,161.87 L59.94,156.95 L62.80,152.67 L65.66,148.89 L68.51,145.51 L71.37,142.44 L74.23,139.65 L77.08,137.09 L79.94,134.73 L82.80,132.54 L85.66,130.50 L88.51,128.60 L91.37,126.83 L94.23,125.17 L97.08,123.61 L99.94,122.15 L102.80,120.77 L105.65,119.48 L108.51,118.26 L111.37,117.11 L114.22,116.03 L117.08,115.02 L119.94,114.06 L122.80,113.16 L125.65,112.31 L128.51,111.52 L131.37,110.77 L134.22,110.07 L137.08,109.42 L139.94,108.81 L142.80,108.25 L145.65,107.73 L148.51,107.24 L151.37,106.80 L154.22,106.40 L157.08,106.03 L159.94,105.70 L162.79,105.41 L165.65,105.15 L168.51,104.93 L171.37,104.74 L174.22,104.59 L177.08,104.47 L179.94,104.38 L182.79,104.33 L185.65,104.32 L188.51,104.33 L191.36,104.38 L194.22,104.47 L197.08,104.59 L199.94,104.74 L202.79,104.93 L205.65,105.15 L208.51,105.41 L211.36,105.70 L214.22,106.03 L217.08,106.40 L219.93,106.80 L222.79,107.24 L225.65,107.73 L228.50,108.25 L231.36,108.81 L234.22,109.42 L237.08,110.07 L239.93,110.77 L242.79,111.52 L245.65,112.31 L248.50,113.16 L251.36,114.06 L254.22,115.02 L257.07,116.03 L259.93,117.11 L262.79,118.26 L265.65,119.48 L268.50,120.77 L271.36,122.15 L274.22,123.61 L277.07,125.17 L279.93,126.83 L282.79,128.60 L285.64,130.50 L288.50,132.54 L291.36,134.73 L294.22,137.09 L297.07,139.65 L299.93,142.44 L302.79,145.51 L305.64,148.89 L308.50,152.67 L311.36,156.95 L314.22,161.87 L317.07,167.69 L319.93,174.84 L322.79,184.22 L325.64,198.44 L328.50,276.50" fill="none" stroke="#ffa500" stroke-width="2.1" stroke-dasharray="2.0,3.0"/>
<path d="M42.80,276.50 L43.16,275.44 L43.51,274.38 L43.87,273.33 L44.23,272.28 L44.59,271.23 L44.94,270.18 L45.30,269.14 L45.66,268.09 L46.01,267.06 L46.37,266.02 L46.73,264.99 L47.09,263.96 L47.44,262.93 L47.80,261.90 L48.16,260.88 L48.51,259.86 L48.87,258.84 L49.23,257.83 L49.59,256.82 L49.94,255.81 L50.30,254.80 L50.66,253.79 L51.01,252.79 L51.37,251.79 L51.73,250.80 L52.09,249.80 L52.44,248.81 L52.80,247.83 L53.16,246.84 L53.51,245.86 L53.87,244.88 L54.23,243.90 L54.59,242.92 L54.94,241.95 L55.30,240.98 L55.66,240.01 L56.01,239.05 L56.37,238.09 L56.73,237.13 L57.08,236.17 L57.44,235.22 L57.80,234.27 L58.16,233.32 L58.51,232.37 L58.87,231.43 L59.23,230.49 L59.58,229.55 L59.94,228.62 L60.30,227.68 L60.66,226.75 L61.01,225.83 L61.37,224.90 L61.73,223.98 L62.08,223.06 L62.44,222.14 L62.80,221.23 L63.16,220.32 L63.51,219.41 L63.87,218.50 L64.23,217.60 L64.58,216.70 L64.94,215.80 L65.30,214.91 L65.66,214.01 L66.01,213.12 L66.37,212.24 L66.73,211.35 L67.08,210.47 L67.44,209.59 L67.80,208.71 L68.16,207.84 L68.51,206.97 L68.87,206.10 L69.23,205.23 L69.58,204.37 L69.94,203.51 L70.30,202.65 L70.66,201.79 L71.01,200.94 L71.37,200.09 L71.73,199.24 L72.08,198.40 L72.44,197.55 L72.80,196.72 L73.16,195.88 L73.51,195.04 L73.87,194.21 L74.23,193.38 L74.58,192.56 L74.94,191.73 L75.30,190.91 L75.66,190.09 L76.01,189.28 L76.37,188.46 L76.73,187.65 L77.08,186.85 L77.44,186.04 L77.80,185.24 L78.16,184.44 L78.51,183.64 L78.87,182.85 L79.23,182.05 L79.58,181.26 L79.94,180.48 L80.30,179.69 L80.66,178.91 L81.01,178.13 L81.37,177.36 L81.73,176.58 L82.08,175.81 L82.44,175.05 L82.80,174.28 L83.16,173.52 L83.51,172.76 L83.87,172.00 L84.23,171.25 L84.58,170.49 L84.94,169.74 L85.30,169.00 L85.66,168.25 L86.01,167.51 L86.37,166.77 L86.73,166.04 L87.08,165.30 L87.44,164.57 L87.80,163.84 L88.15,163.12 L88.51,162.39 L88.87,161.67 L89.23,160.96 L89.58,160.24 L89.94,159.53 L90.30,158.82 L90.65,158.11 L91.01,157.41 L91.37,156.71 L91.73,156.01 L92.08,155.31 L92.44,154.62 L92.80,153.93 L93.15,153.24 L93.51,152.55 L93.87,151.87 L94.23,151.19 L94.58,150.51 L94.94,149.83 L95.30,149.16 L95.65,148.49 L96.01,147.82 L96.37,147.16 L96.73,146.50 L97.08,145.84 L97.44,145.18 L97.80,144.53 L98.15,143.88 L98.51,143.23 L98.87,142.58 L99.23,141.94 L99.58,141.30 L99.94,140.66 L100.30,140.02 L100.65,139.39 L101.01,138.76 L101.37,138.13 L101.73,137.51 L102.08,136.89 L102.44,136.27 L102.80,135.65 L103.15,135.04 L103.51,134.43 L103.87,133.82 L104.23,133.21 L104.58,132.61 L104.94,132.01 L105.30,131.41 L105.65,130.81 L106.01,130.22 L106.37,129.63 L106.73,129.04 L107.08,128.46 L107.44,127.87 L107.80,127.29 L108.15,126.72 L108.51,126.14 L108.87,125.57 L109.23,125.00 L109.58,124.43 L109.94,123.87 L110.30,123.31 L110.65,122.75 L111.01,122.20 L111.37,121.64 L111.73,121.09 L112.08,120.54 L112.44,120.00 L112.80,119.46 L113.15,118.92 L113.51,118.38 L113.87,117.84 L114.22,117.31 L114.58,116.78 L114.94,116.26 L115.30,115.73 L115.65,115.21 L116.01,114.69 L116.37,114.18 L116.72,113.66 L117.08,113.15 L117.44,112.64 L117.80,112.14 L118.15,111.64 L118.51,111.14 L118.87,110.64 L119.22,110.14 L119.58,109.65 L119.94,109.16 L120.30,108.68 L120.65,108.19 L121.01,107.71 L121.37,107.23 L121.72,106.75 L122.08,106.28 L122.44,105.81 L122.80,105.34 L123.15,104.88 L123.51,104.41 L123.87,103.95 L124.22,103.50 L124.58,103.04 L124.94,102.59 L125.30,102.14 L125.65,101.69 L126.01,101.25 L126.37,100.80 L126.72,100.37 L127.08,99.93 L127.44,99.50 L127.80,99.06 L128.15,98.64 L128.51,98.21 L128.87,97.79 L129.22,97.37 L129.58,96.95 L129.94,96.53 L130.30,96.12 L130.65,95.71 L131.01,95.30 L131.37,94.90 L131.72,94.50 L132.08,94.10 L132.44,93.70 L132.80,93.31 L133.15,92.92 L133.51,92.53 L133.87,92.14 L134.22,91.76 L134.58,91.38 L134.94,91.00 L135.30,90.62 L135.65,90.25 L136.01,89.88 L136.37,89.51 L136.72,89.15 L137.08,88.79 L137.44,88.43 L137.80,88.07 L138.15,87.72 L138.51,87.36 L138.87,87.02 L139.22,86.67 L139.58,86.33 L139.94,85.98 L140.30,85.65 L140.65,85.31 L141.01,84.98 L141.37,84.65 L141.72,84.32 L142.08,83.99 L142.44,83.67 L142.80,83.35 L143.15,83.04 L143.51,82.72 L143.87,82.41 L144.22,82.10 L144.58,81.79 L144.94,81.49 L145.29,81.19 L145.65,80.89 L146.01,80.59 L146.37,80.30 L146.72,80.01 L147.08,79.72 L147.44,79.44 L147.79,79.16 L148.15,78.88 L148.51,78.60 L148.87,78.32 L149.22,78.05 L149.58,77.78 L149.94,77.52 L150.29,77.25 L150.65,76.99 L151.01,76.73 L151.37,76.48 L151.72,76.22 L152.08,75.97 L152.44,75.72 L152.79,75.48 L153.15,75.24 L153.51,75.00 L153.87,74.76 L154.22,74.52 L154.58,74.29 L154.94,74.06 L155.29,73.83 L155.65,73.61 L156.01,73.39 L156.37,73.17 L156.72,72.95 L157.08,72.74 L157.44,72.53 L157.79,72.32 L158.15,72.12 L158.51,71.91 L158.87,71.71 L159.22,71.51 L159.58,71.32 L159.94,71.13 L160.29,70.94 L160.65,70.75 L161.01,70.57 L161.37,70.38 L161.72,70.20 L162.08,70.03 L162.44,69.85 L162.79,69.68 L163.15,69.52 L163.51,69.35 L163.87,69.19 L164.22,69.03 L164.58,68.87 L164.94,68.71 L165.29,68.56 L165.65,68.41 L166.01,68.26 L166.37,68.12 L166.72,67.98 L167.08,67.84 L167.44,67.70 L167.79,67.57 L168.15,67.44 L168.51,67.31 L168.87,67.18 L169.22,67.06 L169.58,66.94 L169.94,66.82 L170.29,66.70 L170.65,66.59 L171.01,66.48 L171.37,66.37 L171.72,66.27 L172.08,66.17 L172.44,66.07 L172.79,65.97 L173.15,65.88 L173.51,65.78 L173.86,65.69 L174.22,65.61 L174.58,65.52 L174.94,65.44 L175.29,65.37 L175.65,65.29 L176.01,65.22 L176.36,65.15 L176.72,65.08 L177.08,65.01 L177.44,64.95 L177.79,64.89 L178.15,64.84 L178.51,64.78 L178.86,64.73 L179.22,64.68 L179.58,64.63 L179.94,64.59 L180.29,64.55 L180.65,64.51 L181.01,64.47 L181.36,64.44 L181.72,64.41 L182.08,64.38 L182.44,64.36 L182.79,64.33 L183.15,64.32 L183.51,64.30 L183.86,64.28 L184.22,64.27 L184.58,64.26 L184.94,64.26 L185.29,64.25 L185.65,64.25 L186.01,64.25 L186.36,64.26 L186.72,64.26 L187.08,64.27 L187.44,64.28 L187.79,64.30 L188.15,64.32 L188.51,64.33 L188.86,64.36 L189.22,64.38 L189.58,64.41 L189.94,64.44 L190.29,64.47 L190.65,64.51 L191.01,64.55 L191.36,64.59 L191.72,64.63 L192.08,64.68 L192.44,64.73 L192.79,64.78 L193.15,64.84 L193.51,64.89 L193.86,64.95 L194.22,65.01 L194.58,65.08 L194.94,65.15 L195.29,65.22 L195.65,65.29 L196.01,65.37 L196.36,65.44 L196.72,65.52 L197.08,65.61 L197.44,65.69 L197.79,65.78 L198.15,65.88 L198.51,65.97 L198.86,66.07 L199.22,66.17 L199.58,66.27 L199.94,66.37 L200.29,66.48 L200.65,66.59 L201.01,66.70 L201.36,66.82 L201.72,66.94 L202.08,67.06 L202.43,67.18 L202.79,67.31 L203.15,67.44 L203.51,67.57 L203.86,67.70 L204.22,67.84 L204.58,67.98 L204.93,68.12 L205.29,68.26 L205.65,68.41 L206.01,68.56 L206.36,68.71 L206.72,68.87 L207.08,69.03 L207.43,69.19 L207.79,69.35 L208.15,69.52 L208.51,69.68 L208.86,69.85 L209.22,70.03 L209.58,70.20 L209.93,70.38 L210.29,70.57 L210.65,70.75 L211.01,70.94 L211.36,71.13 L211.72,71.32 L212.08,71.51 L212.43,71.71 L212.79,71.91 L213.15,72.12 L213.51,72.32 L213.86,72.53 L214.22,72.74 L214.58,72.95 L214.93,73.17 L215.29,73.39 L215.65,73.61 L216.01,73.83 L216.36,74.06 L216.72,74.29 L217.08,74.52 L217.43,74.76 L217.79,75.00 L218.15,75.24 L218.51,75.48 L218.86,75.72 L219.22,75.97 L219.58,76.22 L219.93,76.48 L220.29,76.73 L220.65,76.99 L221.01,77.25 L221.36,77.52 L221.72,77.78 L222.08,78.05 L222.43,78.32 L222.79,78.60 L223.15,78.88 L223.51,79.16 L223.86,79.44 L224.22,79.72 L224.58,80.01 L224.93,80.30 L225.29,80.59 L225.65,80.89 L226.01,81.19 L226.36,81.49 L226.72,81.79 L227.08,82.10 L227.43,82.41 L227.79,82.72 L228.15,83.04 L228.50,83.35 L228.86,83.67 L229.22,83.99 L229.58,84.32 L229.93,84.65 L230.29,84.98 L230.65,85.31 L231.00,85.65 L231.36,85.98 L231.72,86.33 L232.08,86.67 L232.43,87.02 L232.79,87.36 L233.15,87.72 L233.50,88.07 L233.86,88.43 L234.22,88.79 L234.58,89.15 L234.93,89.51 L235.29,89.88 L235.65,90.25 L236.00,90.62 L236.36,91.00 L236.72,91.38 L237.08,91.76 L237.43,92.14 L237.79,92.53 L238.15,92.92 L238.50,93.31 L238.86,93.70 L239.22,94.10 L239.58,94.50 L239.93,94.90 L240.29,95.30 L240.65,95.71 L241.00,96.12 L241.36,96.53 L241.72,96.95 L242.08,97.37 L242.43,97.79 L242.79,98.21 L243.15,98.64 L243.50,99.06 L243.86,99.50 L244.22,99.93 L244.58,100.37 L244.93,100.80 L245.29,101.25 L245.65,101.69 L246.00,102.14 L246.36,102.59 L246.72,103.04 L247.08,103.50 L247.43,103.95 L247.79,104.41 L248.15,104.88 L248.50,105.34 L248.86,105.81 L249.22,106.28 L249.58,106.75 L249.93,107.23 L250.29,107.71 L250.65,108.19 L251.00,108.68 L251.36,109.16 L251.72,109.65 L252.08,110.14 L252.43,110.64 L252.79,111.14 L253.15,111.64 L253.50,112.14 L253.86,112.64 L254.22,113.15 L254.58,113.66 L254.93,114.18 L255.29,114.69 L255.65,115.21 L256.00,115.73 L256.36,116.26 L256.72,116.78 L257.07,117.31 L257.43,117.84 L257.79,118.38 L258.15,118.92 L258.50,119.46 L258.86,120.00 L259.22,120.54 L259.57,121.09 L259.93,121.64 L260.29,122.20 L260.65,122.75 L261.00,123.31 L261.36,123.87 L261.72,124.43 L262.07,125.00 L262.43,125.57 L262.79,126.14 L263.15,126.72 L263.50,127.29 L263.86,127.87 L264.22,128.46 L264.57,129.04 L264.93,129.63 L265.29,130.22 L265.65,130.81 L266.00,131.41 L266.36,132.01 L266.72,132.61 L267.07,133.21 L267.43,133.82 L267.79,134.43 L268.15,135.04 L268.50,135.65 L268.86,136.27 L269.22,136.89 L269.57,137.51 L269.93,138.13 L270.29,138.76 L270.65,139.39 L271.00,140.02 L271.36,140.66 L271.72,141.30 L272.07,141.94 L272.43,142.58 L272.79,143.23 L273.15,143.88 L273.50,144.53 L273.86,145.18 L274.22,145.84 L274.57,146.50 L274.93,147.16 L275.29,147.82 L275.65,148.49 L276.00,149.16 L276.36,149.83 L276.72,150.51 L277.07,151.19 L277.43,151.87 L277.79,152.55 L278.15,153.24 L278.50,153.93 L278.86,154.62 L279.22,155.31 L279.57,156.01 L279.93,156.71 L280.29,157.41 L280.65,158.11 L281.00,158.82 L281.36,159.53 L281.72,160.24 L282.07,160.96 L282.43,161.67 L282.79,162.39 L283.15,163.12 L283.50,163.84 L283.86,164.57 L284.22,165.30 L284.57,166.04 L284.93,166.77 L285.29,167.51 L285.64,168.25 L286.00,169.00 L286.36,169.74 L286.72,170.49 L287.07,171.25 L287.43,172.00 L287.79,172.76 L288.14,173.52 L288.50,174.28 L288.86,175.05 L289.22,175.81 L289.57,176.58 L289.93,177.36 L290.29,178.13 L290.64,178.91 L291.00,179.69 L291.36,180.48 L291.72,181.26 L292.07,182.05 L292.43,182.85 L292.79,183.64 L293.14,184.44 L293.50,185.24 L293.86,186.04 L294.22,186.85 L294.57,187.65 L294.93,188.46 L295.29,189.28 L295.64,190.09 L296.00,190.91 L296.36,191.73 L296.72,192.56 L297.07,193.38 L297.43,194.21 L297.79,195.04 L298.14,195.88 L298.50,196.72 L298.86,197.55 L299.22,198.40 L299.57,199.24 L299.93,200.09 L300.29,200.94 L300.64,201.79 L301.00,202.65 L301.36,203.51 L301.72,204.37 L302.07,205.23 L302.43,206.10 L302.79,206.97 L303.14,207.84 L303.50,208.71 L303.86,209.59 L304.22,210.47 L304.57,211.35 L304.93,212.24 L305.29,213.12 L305.64,214.01 L306.00,214.91 L306.36,215.80 L306.72,216.70 L307.07,217.60 L307.43,218.50 L307.79,219.41 L308.14,220.32 L308.50,221.23 L308.86,222.14 L309.22,223.06 L309.57,223.98 L309.93,224.90 L310.29,225.83 L310.64,226.75 L311.00,227.68 L311.36,228.62 L311.72,229.55 L312.07,230.49 L312.43,231.43 L312.79,232.37 L313.14,233.32 L313.50,234.27 L313.86,235.22 L314.22,236.17 L314.57,237.13 L314.93,238.09 L315.29,239.05 L315.64,240.01 L316.00,240.98 L316.36,241.95 L316.71,242.92 L317.07,243.90 L317.43,244.88 L317.79,245.86 L318.14,246.84 L318.50,247.83 L318.86,248.81 L319.21,249.80 L319.57,250.80 L319.93,251.79 L320.29,252.79 L320.64,253.79 L321.00,254.80 L321.36,255.81 L321.71,256.82 L322.07,257.83 L322.43,258.84 L322.79,259.86 L323.14,260.88 L323.50,261.90 L323.86,262.93 L324.21,263.96 L324.57,264.99 L324.93,266.02 L325.29,267.06 L325.64,268.09 L326.00,269.14 L326.36,270.18 L326.71,271.23 L327.07,272.28 L327.43,273.33 L327.79,274.38 L328.14,275.44 L328.50,276.50" fill="none" stroke="#ff0000" stroke-width="1.7" stroke-dasharray="10.9,2.73,1.7,2.73"/>
<line x1="42.8" y1="276.50" x2="328.5" y2="276.50" stroke="#000" stroke-width="1.35" stroke-dasharray="5.0,2.2"/>
<line x1="185.65" y1="36.0" x2="185.65" y2="303.1" stroke="#008000" stroke-width="1.5" stroke-dasharray="4.9,2.2"/>
</g>
<g stroke="#000" stroke-width="1.1"><line x1="42.80" y1="303.1" x2="42.80" y2="300.0"/><line x1="99.94" y1="303.1" x2="99.94" y2="300.0"/><line x1="157.08" y1="303.1" x2="157.08" y2="300.0"/><line x1="214.22" y1="303.1" x2="214.22" y2="300.0"/><line x1="271.36" y1="303.1" x2="271.36" y2="300.0"/><line x1="328.50" y1="303.1" x2="328.50" y2="300.0"/><line x1="42.8" y1="276.50" x2="45.9" y2="276.50"/><line x1="42.8" y1="241.12" x2="45.9" y2="241.12"/><line x1="42.8" y1="205.75" x2="45.9" y2="205.75"/><line x1="42.8" y1="170.38" x2="45.9" y2="170.38"/><line x1="42.8" y1="135.00" x2="45.9" y2="135.00"/><line x1="42.8" y1="99.62" x2="45.9" y2="99.62"/><line x1="42.8" y1="64.25" x2="45.9" y2="64.25"/></g>
<rect x="42.8" y="36.0" width="285.70" height="267.10" fill="none" stroke="#000" stroke-width="1.1"/>
<g font-size="14.7" fill="#000" opacity="0.999"><text x="42.70" y="318.1" text-anchor="middle" textLength="22.2" lengthAdjust="spacingAndGlyphs">0.0</text><text x="99.84" y="318.1" text-anchor="middle" textLength="22.2" lengthAdjust="spacingAndGlyphs">0.2</text><text x="156.98" y="318.1" text-anchor="middle" textLength="22.2" lengthAdjust="spacingAndGlyphs">0.4</text><text x="214.12" y="318.1" text-anchor="middle" textLength="22.2" lengthAdjust="spacingAndGlyphs">0.6</text><text x="271.26" y="318.1" text-anchor="middle" textLength="22.2" lengthAdjust="spacingAndGlyphs">0.8</text><text x="328.40" y="318.1" text-anchor="middle" textLength="22.2" lengthAdjust="spacingAndGlyphs">1.0</text><text x="39.0" y="282.35" text-anchor="end" textLength="30.8" lengthAdjust="spacingAndGlyphs">0.00</text><text x="39.0" y="246.97" text-anchor="end" textLength="30.8" lengthAdjust="spacingAndGlyphs">0.25</text><text x="39.0" y="211.60" text-anchor="end" textLength="30.8" lengthAdjust="spacingAndGlyphs">0.50</text><text x="39.0" y="176.22" text-anchor="end" textLength="30.8" lengthAdjust="spacingAndGlyphs">0.75</text><text x="39.0" y="140.85" text-anchor="end" textLength="30.8" lengthAdjust="spacingAndGlyphs">1.00</text><text x="39.0" y="105.47" text-anchor="end" textLength="30.8" lengthAdjust="spacingAndGlyphs">1.25</text><text x="39.0" y="70.10" text-anchor="end" textLength="30.8" lengthAdjust="spacingAndGlyphs">1.50</text></g>
<text x="185.4" y="337.5" font-size="19" font-style="italic" text-anchor="middle" fill="#000">x</text>
<g>
<rect x="143.4" y="228.6" width="83.8" height="68.2" rx="2" ry="2" fill="#fff" fill-opacity="0.8" stroke="#ccc" stroke-opacity="0.8" stroke-width="1.0"/>
<line x1="146.7" y1="236.3" x2="165.4" y2="236.3" stroke="#0000ff" stroke-width="1.7" stroke-dasharray="5.2,2.2"/>
<line x1="146.7" y1="249.7" x2="165.4" y2="249.7" stroke="#ffa500" stroke-width="1.9" stroke-dasharray="1.9,3.0"/>
<line x1="146.7" y1="263.1" x2="165.4" y2="263.1" stroke="#ff0000" stroke-width="1.5" stroke-dasharray="9,2.2,1.5,2.2"/>
<rect x="146.6" y="273.0" width="19.0" height="6.8" fill="#1e90ff" fill-opacity="0.4" stroke="#1e90ff" stroke-opacity="0.4" stroke-width="0.8"/>
<rect x="146.6" y="286.4" width="19.0" height="6.8" fill="#8a2be2" fill-opacity="0.62" stroke="#8a2be2" stroke-opacity="0.62" stroke-width="0.8"/>
<g font-size="10.5" fill="#000">
<text x="172.6" y="240.0" textLength="18.4" lengthAdjust="spacingAndGlyphs">DSE</text>
<text x="172.4" y="253.3" textLength="43.7" lengthAdjust="spacingAndGlyphs">This work</text>
<text x="172.4" y="266.6" textLength="51.5" lengthAdjust="spacingAndGlyphs">Asymptotic</text>
<text x="172.6" y="279.9" textLength="41.0" lengthAdjust="spacingAndGlyphs">Sum rule</text>
<text x="172.6" y="293.3" textLength="18.6" lengthAdjust="spacingAndGlyphs">OPE</text>
</g>
</g>
</svg>
</body></html>
